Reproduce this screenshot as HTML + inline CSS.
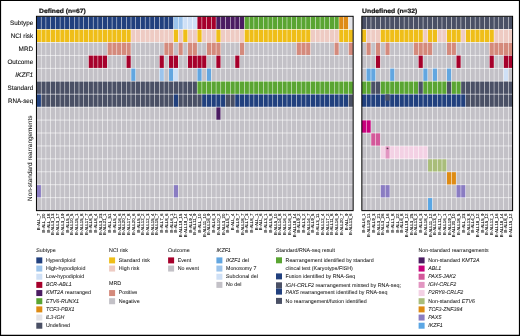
<!DOCTYPE html>
<html lang="en">
<head>
<meta charset="utf-8">
<title>Defined and undefined B-ALL subtypes: standard and RNA-seq results</title>
<style>
html,body{margin:0;padding:0;background:#fff;}
body{width:520px;height:336px;overflow:hidden;}
svg{display:block;font-family:"Liberation Sans",Arial,Helvetica,sans-serif;text-rendering:geometricPrecision;}

.soft{filter:blur(0.35px);}
text{stroke:#1a1a1a;stroke-width:inherit;paint-order:stroke;}
svg{stroke-width:0.05px;}
</style>
</head>
<body>
<svg width="520" height="336" viewBox="0 0 520 336">
<rect width="520" height="336" fill="#fff"/>
<g>
<g class="soft">
<rect x="36.7" y="16.7" width="4.23" height="12.36" fill="#21407e"/>
<rect x="41.43" y="16.7" width="4.23" height="12.36" fill="#21407e"/>
<rect x="46.15" y="16.7" width="4.23" height="12.36" fill="#21407e"/>
<rect x="50.88" y="16.7" width="4.23" height="12.36" fill="#21407e"/>
<rect x="55.61" y="16.7" width="4.23" height="12.36" fill="#21407e"/>
<rect x="60.33" y="16.7" width="4.23" height="12.36" fill="#21407e"/>
<rect x="65.06" y="16.7" width="4.23" height="12.36" fill="#21407e"/>
<rect x="69.79" y="16.7" width="4.23" height="12.36" fill="#21407e"/>
<rect x="74.51" y="16.7" width="4.23" height="12.36" fill="#21407e"/>
<rect x="79.24" y="16.7" width="4.23" height="12.36" fill="#21407e"/>
<rect x="83.97" y="16.7" width="4.23" height="12.36" fill="#21407e"/>
<rect x="88.7" y="16.7" width="4.23" height="12.36" fill="#21407e"/>
<rect x="93.42" y="16.7" width="4.23" height="12.36" fill="#21407e"/>
<rect x="98.15" y="16.7" width="4.23" height="12.36" fill="#21407e"/>
<rect x="102.88" y="16.7" width="4.23" height="12.36" fill="#21407e"/>
<rect x="107.6" y="16.7" width="4.23" height="12.36" fill="#21407e"/>
<rect x="112.33" y="16.7" width="4.23" height="12.36" fill="#21407e"/>
<rect x="117.06" y="16.7" width="4.23" height="12.36" fill="#21407e"/>
<rect x="121.78" y="16.7" width="4.23" height="12.36" fill="#21407e"/>
<rect x="126.51" y="16.7" width="4.23" height="12.36" fill="#21407e"/>
<rect x="131.24" y="16.7" width="4.23" height="12.36" fill="#21407e"/>
<rect x="135.96" y="16.7" width="4.23" height="12.36" fill="#21407e"/>
<rect x="140.69" y="16.7" width="4.23" height="12.36" fill="#21407e"/>
<rect x="145.42" y="16.7" width="4.23" height="12.36" fill="#21407e"/>
<rect x="150.14" y="16.7" width="4.23" height="12.36" fill="#21407e"/>
<rect x="154.87" y="16.7" width="4.23" height="12.36" fill="#21407e"/>
<rect x="159.6" y="16.7" width="4.23" height="12.36" fill="#21407e"/>
<rect x="164.33" y="16.7" width="4.23" height="12.36" fill="#21407e"/>
<rect x="169.05" y="16.7" width="4.23" height="12.36" fill="#21407e"/>
<rect x="173.78" y="16.7" width="4.23" height="12.36" fill="#9cc4ec"/>
<rect x="178.51" y="16.7" width="4.23" height="12.36" fill="#9cc4ec"/>
<rect x="183.23" y="16.7" width="4.23" height="12.36" fill="#cfe0f6"/>
<rect x="187.96" y="16.7" width="4.23" height="12.36" fill="#cfe0f6"/>
<rect x="192.69" y="16.7" width="4.23" height="12.36" fill="#cfe0f6"/>
<rect x="197.41" y="16.7" width="4.23" height="12.36" fill="#a6002b"/>
<rect x="202.14" y="16.7" width="4.23" height="12.36" fill="#a6002b"/>
<rect x="206.87" y="16.7" width="4.23" height="12.36" fill="#a6002b"/>
<rect x="211.59" y="16.7" width="4.23" height="12.36" fill="#a6002b"/>
<rect x="216.32" y="16.7" width="4.23" height="12.36" fill="#4b1c62"/>
<rect x="221.05" y="16.7" width="4.23" height="12.36" fill="#4b1c62"/>
<rect x="225.77" y="16.7" width="4.23" height="12.36" fill="#4b1c62"/>
<rect x="230.5" y="16.7" width="4.23" height="12.36" fill="#4b1c62"/>
<rect x="235.23" y="16.7" width="4.23" height="12.36" fill="#4b1c62"/>
<rect x="239.96" y="16.7" width="4.23" height="12.36" fill="#4b1c62"/>
<rect x="244.68" y="16.7" width="4.23" height="12.36" fill="#5aa532"/>
<rect x="249.41" y="16.7" width="4.23" height="12.36" fill="#5aa532"/>
<rect x="254.14" y="16.7" width="4.23" height="12.36" fill="#5aa532"/>
<rect x="258.86" y="16.7" width="4.23" height="12.36" fill="#5aa532"/>
<rect x="263.59" y="16.7" width="4.23" height="12.36" fill="#5aa532"/>
<rect x="268.32" y="16.7" width="4.23" height="12.36" fill="#5aa532"/>
<rect x="273.04" y="16.7" width="4.23" height="12.36" fill="#5aa532"/>
<rect x="277.77" y="16.7" width="4.23" height="12.36" fill="#5aa532"/>
<rect x="282.5" y="16.7" width="4.23" height="12.36" fill="#5aa532"/>
<rect x="287.22" y="16.7" width="4.23" height="12.36" fill="#5aa532"/>
<rect x="291.95" y="16.7" width="4.23" height="12.36" fill="#5aa532"/>
<rect x="296.68" y="16.7" width="4.23" height="12.36" fill="#5aa532"/>
<rect x="301.4" y="16.7" width="4.23" height="12.36" fill="#5aa532"/>
<rect x="306.13" y="16.7" width="4.23" height="12.36" fill="#5aa532"/>
<rect x="310.86" y="16.7" width="4.23" height="12.36" fill="#5aa532"/>
<rect x="315.59" y="16.7" width="4.23" height="12.36" fill="#5aa532"/>
<rect x="320.31" y="16.7" width="4.23" height="12.36" fill="#5aa532"/>
<rect x="325.04" y="16.7" width="4.23" height="12.36" fill="#5aa532"/>
<rect x="329.77" y="16.7" width="4.23" height="12.36" fill="#5aa532"/>
<rect x="334.49" y="16.7" width="4.23" height="12.36" fill="#5aa532"/>
<rect x="339.22" y="16.7" width="4.23" height="12.36" fill="#de8b14"/>
<rect x="343.95" y="16.7" width="4.23" height="12.36" fill="#de8b14"/>
<rect x="348.67" y="16.7" width="4.23" height="12.36" fill="#e3e3e7"/>
<rect x="36.7" y="29.65" width="4.23" height="12.36" fill="#efbe18"/>
<rect x="41.43" y="29.65" width="4.23" height="12.36" fill="#efbe18"/>
<rect x="46.15" y="29.65" width="4.23" height="12.36" fill="#efbe18"/>
<rect x="50.88" y="29.65" width="4.23" height="12.36" fill="#efbe18"/>
<rect x="55.61" y="29.65" width="4.23" height="12.36" fill="#efbe18"/>
<rect x="60.33" y="29.65" width="4.23" height="12.36" fill="#efbe18"/>
<rect x="65.06" y="29.65" width="4.23" height="12.36" fill="#efbe18"/>
<rect x="69.79" y="29.65" width="4.23" height="12.36" fill="#efbe18"/>
<rect x="74.51" y="29.65" width="4.23" height="12.36" fill="#efbe18"/>
<rect x="79.24" y="29.65" width="4.23" height="12.36" fill="#efbe18"/>
<rect x="83.97" y="29.65" width="4.23" height="12.36" fill="#efbe18"/>
<rect x="88.7" y="29.65" width="4.23" height="12.36" fill="#efbe18"/>
<rect x="93.42" y="29.65" width="4.23" height="12.36" fill="#efbe18"/>
<rect x="98.15" y="29.65" width="4.23" height="12.36" fill="#efbe18"/>
<rect x="102.88" y="29.65" width="4.23" height="12.36" fill="#efbe18"/>
<rect x="107.6" y="29.65" width="4.23" height="12.36" fill="#efbe18"/>
<rect x="112.33" y="29.65" width="4.23" height="12.36" fill="#efbe18"/>
<rect x="117.06" y="29.65" width="4.23" height="12.36" fill="#efbe18"/>
<rect x="121.78" y="29.65" width="4.23" height="12.36" fill="#efbe18"/>
<rect x="126.51" y="29.65" width="4.23" height="12.36" fill="#efbe18"/>
<rect x="131.24" y="29.65" width="4.23" height="12.36" fill="#eecbc3"/>
<rect x="135.96" y="29.65" width="4.23" height="12.36" fill="#eecbc3"/>
<rect x="140.69" y="29.65" width="4.23" height="12.36" fill="#eecbc3"/>
<rect x="145.42" y="29.65" width="4.23" height="12.36" fill="#eecbc3"/>
<rect x="150.14" y="29.65" width="4.23" height="12.36" fill="#eecbc3"/>
<rect x="154.87" y="29.65" width="4.23" height="12.36" fill="#eecbc3"/>
<rect x="159.6" y="29.65" width="4.23" height="12.36" fill="#eecbc3"/>
<rect x="164.33" y="29.65" width="4.23" height="12.36" fill="#eecbc3"/>
<rect x="169.05" y="29.65" width="4.23" height="12.36" fill="#eecbc3"/>
<rect x="173.78" y="29.65" width="4.23" height="12.36" fill="#efbe18"/>
<rect x="178.51" y="29.65" width="4.23" height="12.36" fill="#eecbc3"/>
<rect x="183.23" y="29.65" width="4.23" height="12.36" fill="#efbe18"/>
<rect x="187.96" y="29.65" width="4.23" height="12.36" fill="#eecbc3"/>
<rect x="192.69" y="29.65" width="4.23" height="12.36" fill="#eecbc3"/>
<rect x="197.41" y="29.65" width="4.23" height="12.36" fill="#efbe18"/>
<rect x="202.14" y="29.65" width="4.23" height="12.36" fill="#eecbc3"/>
<rect x="206.87" y="29.65" width="4.23" height="12.36" fill="#eecbc3"/>
<rect x="211.59" y="29.65" width="4.23" height="12.36" fill="#eecbc3"/>
<rect x="216.32" y="29.65" width="4.23" height="12.36" fill="#efbe18"/>
<rect x="221.05" y="29.65" width="4.23" height="12.36" fill="#eecbc3"/>
<rect x="225.77" y="29.65" width="4.23" height="12.36" fill="#eecbc3"/>
<rect x="230.5" y="29.65" width="4.23" height="12.36" fill="#eecbc3"/>
<rect x="235.23" y="29.65" width="4.23" height="12.36" fill="#eecbc3"/>
<rect x="239.96" y="29.65" width="4.23" height="12.36" fill="#eecbc3"/>
<rect x="244.68" y="29.65" width="4.23" height="12.36" fill="#efbe18"/>
<rect x="249.41" y="29.65" width="4.23" height="12.36" fill="#efbe18"/>
<rect x="254.14" y="29.65" width="4.23" height="12.36" fill="#efbe18"/>
<rect x="258.86" y="29.65" width="4.23" height="12.36" fill="#efbe18"/>
<rect x="263.59" y="29.65" width="4.23" height="12.36" fill="#efbe18"/>
<rect x="268.32" y="29.65" width="4.23" height="12.36" fill="#efbe18"/>
<rect x="273.04" y="29.65" width="4.23" height="12.36" fill="#efbe18"/>
<rect x="277.77" y="29.65" width="4.23" height="12.36" fill="#efbe18"/>
<rect x="282.5" y="29.65" width="4.23" height="12.36" fill="#efbe18"/>
<rect x="287.22" y="29.65" width="4.23" height="12.36" fill="#efbe18"/>
<rect x="291.95" y="29.65" width="4.23" height="12.36" fill="#efbe18"/>
<rect x="296.68" y="29.65" width="4.23" height="12.36" fill="#efbe18"/>
<rect x="301.4" y="29.65" width="4.23" height="12.36" fill="#efbe18"/>
<rect x="306.13" y="29.65" width="4.23" height="12.36" fill="#efbe18"/>
<rect x="310.86" y="29.65" width="4.23" height="12.36" fill="#eecbc3"/>
<rect x="315.59" y="29.65" width="4.23" height="12.36" fill="#eecbc3"/>
<rect x="320.31" y="29.65" width="4.23" height="12.36" fill="#eecbc3"/>
<rect x="325.04" y="29.65" width="4.23" height="12.36" fill="#eecbc3"/>
<rect x="329.77" y="29.65" width="4.23" height="12.36" fill="#eecbc3"/>
<rect x="334.49" y="29.65" width="4.23" height="12.36" fill="#eecbc3"/>
<rect x="339.22" y="29.65" width="4.23" height="12.36" fill="#efbe18"/>
<rect x="343.95" y="29.65" width="4.23" height="12.36" fill="#efbe18"/>
<rect x="348.67" y="29.65" width="4.23" height="12.36" fill="#efbe18"/>
<rect x="36.7" y="42.61" width="4.23" height="12.36" fill="#c3c1c7"/>
<rect x="41.43" y="42.61" width="4.23" height="12.36" fill="#c3c1c7"/>
<rect x="46.15" y="42.61" width="4.23" height="12.36" fill="#c3c1c7"/>
<rect x="50.88" y="42.61" width="4.23" height="12.36" fill="#c3c1c7"/>
<rect x="55.61" y="42.61" width="4.23" height="12.36" fill="#c3c1c7"/>
<rect x="60.33" y="42.61" width="4.23" height="12.36" fill="#c3c1c7"/>
<rect x="65.06" y="42.61" width="4.23" height="12.36" fill="#c3c1c7"/>
<rect x="69.79" y="42.61" width="4.23" height="12.36" fill="#c3c1c7"/>
<rect x="74.51" y="42.61" width="4.23" height="12.36" fill="#c3c1c7"/>
<rect x="79.24" y="42.61" width="4.23" height="12.36" fill="#c3c1c7"/>
<rect x="83.97" y="42.61" width="4.23" height="12.36" fill="#c3c1c7"/>
<rect x="88.7" y="42.61" width="4.23" height="12.36" fill="#c3c1c7"/>
<rect x="93.42" y="42.61" width="4.23" height="12.36" fill="#c3c1c7"/>
<rect x="98.15" y="42.61" width="4.23" height="12.36" fill="#c3c1c7"/>
<rect x="102.88" y="42.61" width="4.23" height="12.36" fill="#c3c1c7"/>
<rect x="107.6" y="42.61" width="4.23" height="12.36" fill="#d48a7c"/>
<rect x="112.33" y="42.61" width="4.23" height="12.36" fill="#d48a7c"/>
<rect x="117.06" y="42.61" width="4.23" height="12.36" fill="#d48a7c"/>
<rect x="121.78" y="42.61" width="4.23" height="12.36" fill="#d48a7c"/>
<rect x="126.51" y="42.61" width="4.23" height="12.36" fill="#d48a7c"/>
<rect x="131.24" y="42.61" width="4.23" height="12.36" fill="#c3c1c7"/>
<rect x="135.96" y="42.61" width="4.23" height="12.36" fill="#c3c1c7"/>
<rect x="140.69" y="42.61" width="4.23" height="12.36" fill="#c3c1c7"/>
<rect x="145.42" y="42.61" width="4.23" height="12.36" fill="#c3c1c7"/>
<rect x="150.14" y="42.61" width="4.23" height="12.36" fill="#c3c1c7"/>
<rect x="154.87" y="42.61" width="4.23" height="12.36" fill="#c3c1c7"/>
<rect x="159.6" y="42.61" width="4.23" height="12.36" fill="#c3c1c7"/>
<rect x="164.33" y="42.61" width="4.23" height="12.36" fill="#d48a7c"/>
<rect x="169.05" y="42.61" width="4.23" height="12.36" fill="#d48a7c"/>
<rect x="173.78" y="42.61" width="4.23" height="12.36" fill="#c3c1c7"/>
<rect x="178.51" y="42.61" width="4.23" height="12.36" fill="#d48a7c"/>
<rect x="183.23" y="42.61" width="4.23" height="12.36" fill="#c3c1c7"/>
<rect x="187.96" y="42.61" width="4.23" height="12.36" fill="#d48a7c"/>
<rect x="192.69" y="42.61" width="4.23" height="12.36" fill="#d48a7c"/>
<rect x="197.41" y="42.61" width="4.23" height="12.36" fill="#c3c1c7"/>
<rect x="202.14" y="42.61" width="4.23" height="12.36" fill="#c3c1c7"/>
<rect x="206.87" y="42.61" width="4.23" height="12.36" fill="#d48a7c"/>
<rect x="211.59" y="42.61" width="4.23" height="12.36" fill="#d48a7c"/>
<rect x="216.32" y="42.61" width="4.23" height="12.36" fill="#d48a7c"/>
<rect x="221.05" y="42.61" width="4.23" height="12.36" fill="#c3c1c7"/>
<rect x="225.77" y="42.61" width="4.23" height="12.36" fill="#c3c1c7"/>
<rect x="230.5" y="42.61" width="4.23" height="12.36" fill="#c3c1c7"/>
<rect x="235.23" y="42.61" width="4.23" height="12.36" fill="#c3c1c7"/>
<rect x="239.96" y="42.61" width="4.23" height="12.36" fill="#d48a7c"/>
<rect x="244.68" y="42.61" width="4.23" height="12.36" fill="#c3c1c7"/>
<rect x="249.41" y="42.61" width="4.23" height="12.36" fill="#c3c1c7"/>
<rect x="254.14" y="42.61" width="4.23" height="12.36" fill="#c3c1c7"/>
<rect x="258.86" y="42.61" width="4.23" height="12.36" fill="#c3c1c7"/>
<rect x="263.59" y="42.61" width="4.23" height="12.36" fill="#c3c1c7"/>
<rect x="268.32" y="42.61" width="4.23" height="12.36" fill="#c3c1c7"/>
<rect x="273.04" y="42.61" width="4.23" height="12.36" fill="#c3c1c7"/>
<rect x="277.77" y="42.61" width="4.23" height="12.36" fill="#c3c1c7"/>
<rect x="282.5" y="42.61" width="4.23" height="12.36" fill="#c3c1c7"/>
<rect x="287.22" y="42.61" width="4.23" height="12.36" fill="#c3c1c7"/>
<rect x="291.95" y="42.61" width="4.23" height="12.36" fill="#c3c1c7"/>
<rect x="296.68" y="42.61" width="4.23" height="12.36" fill="#d48a7c"/>
<rect x="301.4" y="42.61" width="4.23" height="12.36" fill="#d48a7c"/>
<rect x="306.13" y="42.61" width="4.23" height="12.36" fill="#d48a7c"/>
<rect x="310.86" y="42.61" width="4.23" height="12.36" fill="#c3c1c7"/>
<rect x="315.59" y="42.61" width="4.23" height="12.36" fill="#c3c1c7"/>
<rect x="320.31" y="42.61" width="4.23" height="12.36" fill="#c3c1c7"/>
<rect x="325.04" y="42.61" width="4.23" height="12.36" fill="#c3c1c7"/>
<rect x="329.77" y="42.61" width="4.23" height="12.36" fill="#c3c1c7"/>
<rect x="334.49" y="42.61" width="4.23" height="12.36" fill="#d48a7c"/>
<rect x="339.22" y="42.61" width="4.23" height="12.36" fill="#c3c1c7"/>
<rect x="343.95" y="42.61" width="4.23" height="12.36" fill="#c3c1c7"/>
<rect x="348.67" y="42.61" width="4.23" height="12.36" fill="#d48a7c"/>
<rect x="36.7" y="55.56" width="4.23" height="12.36" fill="#c3c1c7"/>
<rect x="41.43" y="55.56" width="4.23" height="12.36" fill="#c3c1c7"/>
<rect x="46.15" y="55.56" width="4.23" height="12.36" fill="#c3c1c7"/>
<rect x="50.88" y="55.56" width="4.23" height="12.36" fill="#c3c1c7"/>
<rect x="55.61" y="55.56" width="4.23" height="12.36" fill="#c3c1c7"/>
<rect x="60.33" y="55.56" width="4.23" height="12.36" fill="#c3c1c7"/>
<rect x="65.06" y="55.56" width="4.23" height="12.36" fill="#c3c1c7"/>
<rect x="69.79" y="55.56" width="4.23" height="12.36" fill="#c3c1c7"/>
<rect x="74.51" y="55.56" width="4.23" height="12.36" fill="#c3c1c7"/>
<rect x="79.24" y="55.56" width="4.23" height="12.36" fill="#c3c1c7"/>
<rect x="83.97" y="55.56" width="4.23" height="12.36" fill="#c3c1c7"/>
<rect x="88.7" y="55.56" width="4.23" height="12.36" fill="#a6002b"/>
<rect x="93.42" y="55.56" width="4.23" height="12.36" fill="#a6002b"/>
<rect x="98.15" y="55.56" width="4.23" height="12.36" fill="#a6002b"/>
<rect x="102.88" y="55.56" width="4.23" height="12.36" fill="#a6002b"/>
<rect x="107.6" y="55.56" width="4.23" height="12.36" fill="#c3c1c7"/>
<rect x="112.33" y="55.56" width="4.23" height="12.36" fill="#c3c1c7"/>
<rect x="117.06" y="55.56" width="4.23" height="12.36" fill="#c3c1c7"/>
<rect x="121.78" y="55.56" width="4.23" height="12.36" fill="#c3c1c7"/>
<rect x="126.51" y="55.56" width="4.23" height="12.36" fill="#a6002b"/>
<rect x="131.24" y="55.56" width="4.23" height="12.36" fill="#c3c1c7"/>
<rect x="135.96" y="55.56" width="4.23" height="12.36" fill="#c3c1c7"/>
<rect x="140.69" y="55.56" width="4.23" height="12.36" fill="#c3c1c7"/>
<rect x="145.42" y="55.56" width="4.23" height="12.36" fill="#c3c1c7"/>
<rect x="150.14" y="55.56" width="4.23" height="12.36" fill="#c3c1c7"/>
<rect x="154.87" y="55.56" width="4.23" height="12.36" fill="#c3c1c7"/>
<rect x="159.6" y="55.56" width="4.23" height="12.36" fill="#a6002b"/>
<rect x="164.33" y="55.56" width="4.23" height="12.36" fill="#c3c1c7"/>
<rect x="169.05" y="55.56" width="4.23" height="12.36" fill="#a6002b"/>
<rect x="173.78" y="55.56" width="4.23" height="12.36" fill="#a6002b"/>
<rect x="178.51" y="55.56" width="4.23" height="12.36" fill="#c3c1c7"/>
<rect x="183.23" y="55.56" width="4.23" height="12.36" fill="#c3c1c7"/>
<rect x="187.96" y="55.56" width="4.23" height="12.36" fill="#a6002b"/>
<rect x="192.69" y="55.56" width="4.23" height="12.36" fill="#a6002b"/>
<rect x="197.41" y="55.56" width="4.23" height="12.36" fill="#a6002b"/>
<rect x="202.14" y="55.56" width="4.23" height="12.36" fill="#a6002b"/>
<rect x="206.87" y="55.56" width="4.23" height="12.36" fill="#c3c1c7"/>
<rect x="211.59" y="55.56" width="4.23" height="12.36" fill="#c3c1c7"/>
<rect x="216.32" y="55.56" width="4.23" height="12.36" fill="#a6002b"/>
<rect x="221.05" y="55.56" width="4.23" height="12.36" fill="#c3c1c7"/>
<rect x="225.77" y="55.56" width="4.23" height="12.36" fill="#c3c1c7"/>
<rect x="230.5" y="55.56" width="4.23" height="12.36" fill="#c3c1c7"/>
<rect x="235.23" y="55.56" width="4.23" height="12.36" fill="#a6002b"/>
<rect x="239.96" y="55.56" width="4.23" height="12.36" fill="#c3c1c7"/>
<rect x="244.68" y="55.56" width="4.23" height="12.36" fill="#c3c1c7"/>
<rect x="249.41" y="55.56" width="4.23" height="12.36" fill="#c3c1c7"/>
<rect x="254.14" y="55.56" width="4.23" height="12.36" fill="#c3c1c7"/>
<rect x="258.86" y="55.56" width="4.23" height="12.36" fill="#c3c1c7"/>
<rect x="263.59" y="55.56" width="4.23" height="12.36" fill="#c3c1c7"/>
<rect x="268.32" y="55.56" width="4.23" height="12.36" fill="#c3c1c7"/>
<rect x="273.04" y="55.56" width="4.23" height="12.36" fill="#c3c1c7"/>
<rect x="277.77" y="55.56" width="4.23" height="12.36" fill="#c3c1c7"/>
<rect x="282.5" y="55.56" width="4.23" height="12.36" fill="#c3c1c7"/>
<rect x="287.22" y="55.56" width="4.23" height="12.36" fill="#c3c1c7"/>
<rect x="291.95" y="55.56" width="4.23" height="12.36" fill="#c3c1c7"/>
<rect x="296.68" y="55.56" width="4.23" height="12.36" fill="#c3c1c7"/>
<rect x="301.4" y="55.56" width="4.23" height="12.36" fill="#c3c1c7"/>
<rect x="306.13" y="55.56" width="4.23" height="12.36" fill="#c3c1c7"/>
<rect x="310.86" y="55.56" width="4.23" height="12.36" fill="#c3c1c7"/>
<rect x="315.59" y="55.56" width="4.23" height="12.36" fill="#c3c1c7"/>
<rect x="320.31" y="55.56" width="4.23" height="12.36" fill="#c3c1c7"/>
<rect x="325.04" y="55.56" width="4.23" height="12.36" fill="#c3c1c7"/>
<rect x="329.77" y="55.56" width="4.23" height="12.36" fill="#c3c1c7"/>
<rect x="334.49" y="55.56" width="4.23" height="12.36" fill="#c3c1c7"/>
<rect x="339.22" y="55.56" width="4.23" height="12.36" fill="#c3c1c7"/>
<rect x="343.95" y="55.56" width="4.23" height="12.36" fill="#c3c1c7"/>
<rect x="348.67" y="55.56" width="4.23" height="12.36" fill="#c3c1c7"/>
<rect x="36.7" y="68.52" width="4.23" height="12.36" fill="#c3c1c7"/>
<rect x="41.43" y="68.52" width="4.23" height="12.36" fill="#c3c1c7"/>
<rect x="46.15" y="68.52" width="4.23" height="12.36" fill="#c3c1c7"/>
<rect x="50.88" y="68.52" width="4.23" height="12.36" fill="#c3c1c7"/>
<rect x="55.61" y="68.52" width="4.23" height="12.36" fill="#c3c1c7"/>
<rect x="60.33" y="68.52" width="4.23" height="12.36" fill="#c3c1c7"/>
<rect x="65.06" y="68.52" width="4.23" height="12.36" fill="#c3c1c7"/>
<rect x="69.79" y="68.52" width="4.23" height="12.36" fill="#c3c1c7"/>
<rect x="74.51" y="68.52" width="4.23" height="12.36" fill="#c3c1c7"/>
<rect x="79.24" y="68.52" width="4.23" height="12.36" fill="#c3c1c7"/>
<rect x="83.97" y="68.52" width="4.23" height="12.36" fill="#c3c1c7"/>
<rect x="88.7" y="68.52" width="4.23" height="12.36" fill="#c3c1c7"/>
<rect x="93.42" y="68.52" width="4.23" height="12.36" fill="#c3c1c7"/>
<rect x="98.15" y="68.52" width="4.23" height="12.36" fill="#c3c1c7"/>
<rect x="102.88" y="68.52" width="4.23" height="12.36" fill="#c3c1c7"/>
<rect x="107.6" y="68.52" width="4.23" height="12.36" fill="#c3c1c7"/>
<rect x="112.33" y="68.52" width="4.23" height="12.36" fill="#c3c1c7"/>
<rect x="117.06" y="68.52" width="4.23" height="12.36" fill="#c3c1c7"/>
<rect x="121.78" y="68.52" width="4.23" height="12.36" fill="#c3c1c7"/>
<rect x="126.51" y="68.52" width="4.23" height="12.36" fill="#c3c1c7"/>
<rect x="131.24" y="68.52" width="4.23" height="12.36" fill="#62a6e0"/>
<rect x="135.96" y="68.52" width="4.23" height="12.36" fill="#c3c1c7"/>
<rect x="140.69" y="68.52" width="4.23" height="12.36" fill="#c3c1c7"/>
<rect x="145.42" y="68.52" width="4.23" height="12.36" fill="#c3c1c7"/>
<rect x="150.14" y="68.52" width="4.23" height="12.36" fill="#c3c1c7"/>
<rect x="154.87" y="68.52" width="4.23" height="12.36" fill="#c3c1c7"/>
<rect x="159.6" y="68.52" width="4.23" height="12.36" fill="#9cc4ec"/>
<rect x="164.33" y="68.52" width="4.23" height="12.36" fill="#c3c1c7"/>
<rect x="169.05" y="68.52" width="4.23" height="12.36" fill="#62a6e0"/>
<rect x="173.78" y="68.52" width="4.23" height="12.36" fill="#cfe0f6"/>
<rect x="178.51" y="68.52" width="4.23" height="12.36" fill="#c3c1c7"/>
<rect x="183.23" y="68.52" width="4.23" height="12.36" fill="#c3c1c7"/>
<rect x="187.96" y="68.52" width="4.23" height="12.36" fill="#c3c1c7"/>
<rect x="192.69" y="68.52" width="4.23" height="12.36" fill="#c3c1c7"/>
<rect x="197.41" y="68.52" width="4.23" height="12.36" fill="#62a6e0"/>
<rect x="202.14" y="68.52" width="4.23" height="12.36" fill="#c3c1c7"/>
<rect x="206.87" y="68.52" width="4.23" height="12.36" fill="#62a6e0"/>
<rect x="211.59" y="68.52" width="4.23" height="12.36" fill="#c3c1c7"/>
<rect x="216.32" y="68.52" width="4.23" height="12.36" fill="#c3c1c7"/>
<rect x="221.05" y="68.52" width="4.23" height="12.36" fill="#c3c1c7"/>
<rect x="225.77" y="68.52" width="4.23" height="12.36" fill="#c3c1c7"/>
<rect x="230.5" y="68.52" width="4.23" height="12.36" fill="#c3c1c7"/>
<rect x="235.23" y="68.52" width="4.23" height="12.36" fill="#c3c1c7"/>
<rect x="239.96" y="68.52" width="4.23" height="12.36" fill="#c3c1c7"/>
<rect x="244.68" y="68.52" width="4.23" height="12.36" fill="#c3c1c7"/>
<rect x="249.41" y="68.52" width="4.23" height="12.36" fill="#c3c1c7"/>
<rect x="254.14" y="68.52" width="4.23" height="12.36" fill="#c3c1c7"/>
<rect x="258.86" y="68.52" width="4.23" height="12.36" fill="#c3c1c7"/>
<rect x="263.59" y="68.52" width="4.23" height="12.36" fill="#c3c1c7"/>
<rect x="268.32" y="68.52" width="4.23" height="12.36" fill="#c3c1c7"/>
<rect x="273.04" y="68.52" width="4.23" height="12.36" fill="#c3c1c7"/>
<rect x="277.77" y="68.52" width="4.23" height="12.36" fill="#c3c1c7"/>
<rect x="282.5" y="68.52" width="4.23" height="12.36" fill="#c3c1c7"/>
<rect x="287.22" y="68.52" width="4.23" height="12.36" fill="#c3c1c7"/>
<rect x="291.95" y="68.52" width="4.23" height="12.36" fill="#c3c1c7"/>
<rect x="296.68" y="68.52" width="4.23" height="12.36" fill="#c3c1c7"/>
<rect x="301.4" y="68.52" width="4.23" height="12.36" fill="#c3c1c7"/>
<rect x="306.13" y="68.52" width="4.23" height="12.36" fill="#c3c1c7"/>
<rect x="310.86" y="68.52" width="4.23" height="12.36" fill="#c3c1c7"/>
<rect x="315.59" y="68.52" width="4.23" height="12.36" fill="#c3c1c7"/>
<rect x="320.31" y="68.52" width="4.23" height="12.36" fill="#c3c1c7"/>
<rect x="325.04" y="68.52" width="4.23" height="12.36" fill="#c3c1c7"/>
<rect x="329.77" y="68.52" width="4.23" height="12.36" fill="#c3c1c7"/>
<rect x="334.49" y="68.52" width="4.23" height="12.36" fill="#c3c1c7"/>
<rect x="339.22" y="68.52" width="4.23" height="12.36" fill="#c3c1c7"/>
<rect x="343.95" y="68.52" width="4.23" height="12.36" fill="#c3c1c7"/>
<rect x="348.67" y="68.52" width="4.23" height="12.36" fill="#c3c1c7"/>
<rect x="36.7" y="81.48" width="4.23" height="12.36" fill="#4a5065"/>
<rect x="41.43" y="81.48" width="4.23" height="12.36" fill="#4a5065"/>
<rect x="46.15" y="81.48" width="4.23" height="12.36" fill="#4a5065"/>
<rect x="50.88" y="81.48" width="4.23" height="12.36" fill="#4a5065"/>
<rect x="55.61" y="81.48" width="4.23" height="12.36" fill="#4a5065"/>
<rect x="60.33" y="81.48" width="4.23" height="12.36" fill="#4a5065"/>
<rect x="65.06" y="81.48" width="4.23" height="12.36" fill="#4a5065"/>
<rect x="69.79" y="81.48" width="4.23" height="12.36" fill="#4a5065"/>
<rect x="74.51" y="81.48" width="4.23" height="12.36" fill="#4a5065"/>
<rect x="79.24" y="81.48" width="4.23" height="12.36" fill="#4a5065"/>
<rect x="83.97" y="81.48" width="4.23" height="12.36" fill="#4a5065"/>
<rect x="88.7" y="81.48" width="4.23" height="12.36" fill="#4a5065"/>
<rect x="93.42" y="81.48" width="4.23" height="12.36" fill="#4a5065"/>
<rect x="98.15" y="81.48" width="4.23" height="12.36" fill="#4a5065"/>
<rect x="102.88" y="81.48" width="4.23" height="12.36" fill="#4a5065"/>
<rect x="107.6" y="81.48" width="4.23" height="12.36" fill="#4a5065"/>
<rect x="112.33" y="81.48" width="4.23" height="12.36" fill="#4a5065"/>
<rect x="117.06" y="81.48" width="4.23" height="12.36" fill="#4a5065"/>
<rect x="121.78" y="81.48" width="4.23" height="12.36" fill="#4a5065"/>
<rect x="126.51" y="81.48" width="4.23" height="12.36" fill="#4a5065"/>
<rect x="131.24" y="81.48" width="4.23" height="12.36" fill="#4a5065"/>
<rect x="135.96" y="81.48" width="4.23" height="12.36" fill="#4a5065"/>
<rect x="140.69" y="81.48" width="4.23" height="12.36" fill="#4a5065"/>
<rect x="145.42" y="81.48" width="4.23" height="12.36" fill="#4a5065"/>
<rect x="150.14" y="81.48" width="4.23" height="12.36" fill="#4a5065"/>
<rect x="154.87" y="81.48" width="4.23" height="12.36" fill="#4a5065"/>
<rect x="159.6" y="81.48" width="4.23" height="12.36" fill="#4a5065"/>
<rect x="164.33" y="81.48" width="4.23" height="12.36" fill="#4a5065"/>
<rect x="169.05" y="81.48" width="4.23" height="12.36" fill="#4a5065"/>
<rect x="173.78" y="81.48" width="4.23" height="12.36" fill="#4a5065"/>
<rect x="178.51" y="81.48" width="4.23" height="12.36" fill="#4a5065"/>
<rect x="183.23" y="81.48" width="4.23" height="12.36" fill="#4a5065"/>
<rect x="187.96" y="81.48" width="4.23" height="12.36" fill="#4a5065"/>
<rect x="192.69" y="81.48" width="4.23" height="12.36" fill="#4a5065"/>
<rect x="197.41" y="81.48" width="4.23" height="12.36" fill="#5aa532"/>
<rect x="202.14" y="81.48" width="4.23" height="12.36" fill="#5aa532"/>
<rect x="206.87" y="81.48" width="4.23" height="12.36" fill="#5aa532"/>
<rect x="211.59" y="81.48" width="4.23" height="12.36" fill="#5aa532"/>
<rect x="216.32" y="81.48" width="4.23" height="12.36" fill="#5aa532"/>
<rect x="221.05" y="81.48" width="4.23" height="12.36" fill="#5aa532"/>
<rect x="225.77" y="81.48" width="4.23" height="12.36" fill="#5aa532"/>
<rect x="230.5" y="81.48" width="4.23" height="12.36" fill="#5aa532"/>
<rect x="235.23" y="81.48" width="4.23" height="12.36" fill="#5aa532"/>
<rect x="239.96" y="81.48" width="4.23" height="12.36" fill="#5aa532"/>
<rect x="244.68" y="81.48" width="4.23" height="12.36" fill="#5aa532"/>
<rect x="249.41" y="81.48" width="4.23" height="12.36" fill="#5aa532"/>
<rect x="254.14" y="81.48" width="4.23" height="12.36" fill="#5aa532"/>
<rect x="258.86" y="81.48" width="4.23" height="12.36" fill="#5aa532"/>
<rect x="263.59" y="81.48" width="4.23" height="12.36" fill="#5aa532"/>
<rect x="268.32" y="81.48" width="4.23" height="12.36" fill="#5aa532"/>
<rect x="273.04" y="81.48" width="4.23" height="12.36" fill="#5aa532"/>
<rect x="277.77" y="81.48" width="4.23" height="12.36" fill="#5aa532"/>
<rect x="282.5" y="81.48" width="4.23" height="12.36" fill="#5aa532"/>
<rect x="287.22" y="81.48" width="4.23" height="12.36" fill="#5aa532"/>
<rect x="291.95" y="81.48" width="4.23" height="12.36" fill="#5aa532"/>
<rect x="296.68" y="81.48" width="4.23" height="12.36" fill="#5aa532"/>
<rect x="301.4" y="81.48" width="4.23" height="12.36" fill="#5aa532"/>
<rect x="306.13" y="81.48" width="4.23" height="12.36" fill="#5aa532"/>
<rect x="310.86" y="81.48" width="4.23" height="12.36" fill="#5aa532"/>
<rect x="315.59" y="81.48" width="4.23" height="12.36" fill="#5aa532"/>
<rect x="320.31" y="81.48" width="4.23" height="12.36" fill="#5aa532"/>
<rect x="325.04" y="81.48" width="4.23" height="12.36" fill="#5aa532"/>
<rect x="329.77" y="81.48" width="4.23" height="12.36" fill="#5aa532"/>
<rect x="334.49" y="81.48" width="4.23" height="12.36" fill="#5aa532"/>
<rect x="339.22" y="81.48" width="4.23" height="12.36" fill="#5aa532"/>
<rect x="343.95" y="81.48" width="4.23" height="12.36" fill="#5aa532"/>
<rect x="348.67" y="81.48" width="4.23" height="12.36" fill="#5aa532"/>
<rect x="36.7" y="94.43" width="4.23" height="12.36" fill="#21407e"/>
<rect x="41.43" y="94.43" width="4.23" height="12.36" fill="#4a5065"/>
<rect x="46.15" y="94.43" width="4.23" height="12.36" fill="#4a5065"/>
<rect x="50.88" y="94.43" width="4.23" height="12.36" fill="#4a5065"/>
<rect x="55.61" y="94.43" width="4.23" height="12.36" fill="#4a5065"/>
<rect x="60.33" y="94.43" width="4.23" height="12.36" fill="#4a5065"/>
<rect x="65.06" y="94.43" width="4.23" height="12.36" fill="#4a5065"/>
<rect x="69.79" y="94.43" width="4.23" height="12.36" fill="#4a5065"/>
<rect x="74.51" y="94.43" width="4.23" height="12.36" fill="#4a5065"/>
<rect x="79.24" y="94.43" width="4.23" height="12.36" fill="#4a5065"/>
<rect x="83.97" y="94.43" width="4.23" height="12.36" fill="#4a5065"/>
<rect x="88.7" y="94.43" width="4.23" height="12.36" fill="#4a5065"/>
<rect x="93.42" y="94.43" width="4.23" height="12.36" fill="#4a5065"/>
<rect x="98.15" y="94.43" width="4.23" height="12.36" fill="#4a5065"/>
<rect x="102.88" y="94.43" width="4.23" height="12.36" fill="#4a5065"/>
<rect x="107.6" y="94.43" width="4.23" height="12.36" fill="#4a5065"/>
<rect x="112.33" y="94.43" width="4.23" height="12.36" fill="#4a5065"/>
<rect x="117.06" y="94.43" width="4.23" height="12.36" fill="#4a5065"/>
<rect x="121.78" y="94.43" width="4.23" height="12.36" fill="#4a5065"/>
<rect x="126.51" y="94.43" width="4.23" height="12.36" fill="#4a5065"/>
<rect x="131.24" y="94.43" width="4.23" height="12.36" fill="#4a5065"/>
<rect x="135.96" y="94.43" width="4.23" height="12.36" fill="#4a5065"/>
<rect x="140.69" y="94.43" width="4.23" height="12.36" fill="#4a5065"/>
<rect x="145.42" y="94.43" width="4.23" height="12.36" fill="#4a5065"/>
<rect x="150.14" y="94.43" width="4.23" height="12.36" fill="#4a5065"/>
<rect x="154.87" y="94.43" width="4.23" height="12.36" fill="#4a5065"/>
<rect x="159.6" y="94.43" width="4.23" height="12.36" fill="#4a5065"/>
<rect x="164.33" y="94.43" width="4.23" height="12.36" fill="#4a5065"/>
<rect x="169.05" y="94.43" width="4.23" height="12.36" fill="#4a5065"/>
<rect x="173.78" y="94.43" width="4.23" height="12.36" fill="#21407e"/>
<rect x="178.51" y="94.43" width="4.23" height="12.36" fill="#4a5065"/>
<rect x="183.23" y="94.43" width="4.23" height="12.36" fill="#4a5065"/>
<rect x="187.96" y="94.43" width="4.23" height="12.36" fill="#4a5065"/>
<rect x="192.69" y="94.43" width="4.23" height="12.36" fill="#4a5065"/>
<rect x="197.41" y="94.43" width="4.23" height="12.36" fill="#4a5065"/>
<rect x="202.14" y="94.43" width="4.23" height="12.36" fill="#21407e"/>
<rect x="206.87" y="94.43" width="4.23" height="12.36" fill="#21407e"/>
<rect x="211.59" y="94.43" width="4.23" height="12.36" fill="#21407e"/>
<rect x="216.32" y="94.43" width="4.23" height="12.36" fill="#21407e"/>
<rect x="221.05" y="94.43" width="4.23" height="12.36" fill="#21407e"/>
<rect x="225.77" y="94.43" width="4.23" height="12.36" fill="#4a5065"/>
<rect x="230.5" y="94.43" width="4.23" height="12.36" fill="#4a5065"/>
<rect x="235.23" y="94.43" width="4.23" height="12.36" fill="#21407e"/>
<rect x="239.96" y="94.43" width="4.23" height="12.36" fill="#21407e"/>
<rect x="244.68" y="94.43" width="4.23" height="12.36" fill="#21407e"/>
<rect x="249.41" y="94.43" width="4.23" height="12.36" fill="#21407e"/>
<rect x="254.14" y="94.43" width="4.23" height="12.36" fill="#21407e"/>
<rect x="258.86" y="94.43" width="4.23" height="12.36" fill="#21407e"/>
<rect x="263.59" y="94.43" width="4.23" height="12.36" fill="#21407e"/>
<rect x="268.32" y="94.43" width="4.23" height="12.36" fill="#21407e"/>
<rect x="273.04" y="94.43" width="4.23" height="12.36" fill="#21407e"/>
<rect x="277.77" y="94.43" width="4.23" height="12.36" fill="#21407e"/>
<rect x="282.5" y="94.43" width="4.23" height="12.36" fill="#21407e"/>
<rect x="287.22" y="94.43" width="4.23" height="12.36" fill="#21407e"/>
<rect x="291.95" y="94.43" width="4.23" height="12.36" fill="#21407e"/>
<rect x="296.68" y="94.43" width="4.23" height="12.36" fill="#21407e"/>
<rect x="301.4" y="94.43" width="4.23" height="12.36" fill="#21407e"/>
<rect x="306.13" y="94.43" width="4.23" height="12.36" fill="#21407e"/>
<rect x="310.86" y="94.43" width="4.23" height="12.36" fill="#21407e"/>
<rect x="315.59" y="94.43" width="4.23" height="12.36" fill="#21407e"/>
<rect x="320.31" y="94.43" width="4.23" height="12.36" fill="#21407e"/>
<rect x="325.04" y="94.43" width="4.23" height="12.36" fill="#21407e"/>
<rect x="329.77" y="94.43" width="4.23" height="12.36" fill="#21407e"/>
<rect x="334.49" y="94.43" width="4.23" height="12.36" fill="#21407e"/>
<rect x="339.22" y="94.43" width="4.23" height="12.36" fill="#21407e"/>
<rect x="343.95" y="94.43" width="4.23" height="12.36" fill="#21407e"/>
<rect x="348.67" y="94.43" width="4.23" height="12.36" fill="#4a5065"/>
<rect x="36.7" y="107.39" width="4.23" height="12.36" fill="#c3c1c7"/>
<rect x="41.43" y="107.39" width="4.23" height="12.36" fill="#c3c1c7"/>
<rect x="46.15" y="107.39" width="4.23" height="12.36" fill="#c3c1c7"/>
<rect x="50.88" y="107.39" width="4.23" height="12.36" fill="#c3c1c7"/>
<rect x="55.61" y="107.39" width="4.23" height="12.36" fill="#c3c1c7"/>
<rect x="60.33" y="107.39" width="4.23" height="12.36" fill="#c3c1c7"/>
<rect x="65.06" y="107.39" width="4.23" height="12.36" fill="#c3c1c7"/>
<rect x="69.79" y="107.39" width="4.23" height="12.36" fill="#c3c1c7"/>
<rect x="74.51" y="107.39" width="4.23" height="12.36" fill="#c3c1c7"/>
<rect x="79.24" y="107.39" width="4.23" height="12.36" fill="#c3c1c7"/>
<rect x="83.97" y="107.39" width="4.23" height="12.36" fill="#c3c1c7"/>
<rect x="88.7" y="107.39" width="4.23" height="12.36" fill="#c3c1c7"/>
<rect x="93.42" y="107.39" width="4.23" height="12.36" fill="#c3c1c7"/>
<rect x="98.15" y="107.39" width="4.23" height="12.36" fill="#c3c1c7"/>
<rect x="102.88" y="107.39" width="4.23" height="12.36" fill="#c3c1c7"/>
<rect x="107.6" y="107.39" width="4.23" height="12.36" fill="#c3c1c7"/>
<rect x="112.33" y="107.39" width="4.23" height="12.36" fill="#c3c1c7"/>
<rect x="117.06" y="107.39" width="4.23" height="12.36" fill="#c3c1c7"/>
<rect x="121.78" y="107.39" width="4.23" height="12.36" fill="#c3c1c7"/>
<rect x="126.51" y="107.39" width="4.23" height="12.36" fill="#c3c1c7"/>
<rect x="131.24" y="107.39" width="4.23" height="12.36" fill="#c3c1c7"/>
<rect x="135.96" y="107.39" width="4.23" height="12.36" fill="#c3c1c7"/>
<rect x="140.69" y="107.39" width="4.23" height="12.36" fill="#c3c1c7"/>
<rect x="145.42" y="107.39" width="4.23" height="12.36" fill="#c3c1c7"/>
<rect x="150.14" y="107.39" width="4.23" height="12.36" fill="#c3c1c7"/>
<rect x="154.87" y="107.39" width="4.23" height="12.36" fill="#c3c1c7"/>
<rect x="159.6" y="107.39" width="4.23" height="12.36" fill="#c3c1c7"/>
<rect x="164.33" y="107.39" width="4.23" height="12.36" fill="#c3c1c7"/>
<rect x="169.05" y="107.39" width="4.23" height="12.36" fill="#c3c1c7"/>
<rect x="173.78" y="107.39" width="4.23" height="12.36" fill="#c3c1c7"/>
<rect x="178.51" y="107.39" width="4.23" height="12.36" fill="#c3c1c7"/>
<rect x="183.23" y="107.39" width="4.23" height="12.36" fill="#c3c1c7"/>
<rect x="187.96" y="107.39" width="4.23" height="12.36" fill="#c3c1c7"/>
<rect x="192.69" y="107.39" width="4.23" height="12.36" fill="#c3c1c7"/>
<rect x="197.41" y="107.39" width="4.23" height="12.36" fill="#c3c1c7"/>
<rect x="202.14" y="107.39" width="4.23" height="12.36" fill="#c3c1c7"/>
<rect x="206.87" y="107.39" width="4.23" height="12.36" fill="#c3c1c7"/>
<rect x="211.59" y="107.39" width="4.23" height="12.36" fill="#c3c1c7"/>
<rect x="216.32" y="107.39" width="4.23" height="12.36" fill="#4b1c62"/>
<rect x="221.05" y="107.39" width="4.23" height="12.36" fill="#c3c1c7"/>
<rect x="225.77" y="107.39" width="4.23" height="12.36" fill="#c3c1c7"/>
<rect x="230.5" y="107.39" width="4.23" height="12.36" fill="#c3c1c7"/>
<rect x="235.23" y="107.39" width="4.23" height="12.36" fill="#c3c1c7"/>
<rect x="239.96" y="107.39" width="4.23" height="12.36" fill="#c3c1c7"/>
<rect x="244.68" y="107.39" width="4.23" height="12.36" fill="#c3c1c7"/>
<rect x="249.41" y="107.39" width="4.23" height="12.36" fill="#c3c1c7"/>
<rect x="254.14" y="107.39" width="4.23" height="12.36" fill="#c3c1c7"/>
<rect x="258.86" y="107.39" width="4.23" height="12.36" fill="#c3c1c7"/>
<rect x="263.59" y="107.39" width="4.23" height="12.36" fill="#c3c1c7"/>
<rect x="268.32" y="107.39" width="4.23" height="12.36" fill="#c3c1c7"/>
<rect x="273.04" y="107.39" width="4.23" height="12.36" fill="#c3c1c7"/>
<rect x="277.77" y="107.39" width="4.23" height="12.36" fill="#c3c1c7"/>
<rect x="282.5" y="107.39" width="4.23" height="12.36" fill="#c3c1c7"/>
<rect x="287.22" y="107.39" width="4.23" height="12.36" fill="#c3c1c7"/>
<rect x="291.95" y="107.39" width="4.23" height="12.36" fill="#c3c1c7"/>
<rect x="296.68" y="107.39" width="4.23" height="12.36" fill="#c3c1c7"/>
<rect x="301.4" y="107.39" width="4.23" height="12.36" fill="#c3c1c7"/>
<rect x="306.13" y="107.39" width="4.23" height="12.36" fill="#c3c1c7"/>
<rect x="310.86" y="107.39" width="4.23" height="12.36" fill="#c3c1c7"/>
<rect x="315.59" y="107.39" width="4.23" height="12.36" fill="#c3c1c7"/>
<rect x="320.31" y="107.39" width="4.23" height="12.36" fill="#c3c1c7"/>
<rect x="325.04" y="107.39" width="4.23" height="12.36" fill="#c3c1c7"/>
<rect x="329.77" y="107.39" width="4.23" height="12.36" fill="#c3c1c7"/>
<rect x="334.49" y="107.39" width="4.23" height="12.36" fill="#c3c1c7"/>
<rect x="339.22" y="107.39" width="4.23" height="12.36" fill="#c3c1c7"/>
<rect x="343.95" y="107.39" width="4.23" height="12.36" fill="#c3c1c7"/>
<rect x="348.67" y="107.39" width="4.23" height="12.36" fill="#c3c1c7"/>
<rect x="36.7" y="120.34" width="4.23" height="12.36" fill="#c3c1c7"/>
<rect x="41.43" y="120.34" width="4.23" height="12.36" fill="#c3c1c7"/>
<rect x="46.15" y="120.34" width="4.23" height="12.36" fill="#c3c1c7"/>
<rect x="50.88" y="120.34" width="4.23" height="12.36" fill="#c3c1c7"/>
<rect x="55.61" y="120.34" width="4.23" height="12.36" fill="#c3c1c7"/>
<rect x="60.33" y="120.34" width="4.23" height="12.36" fill="#c3c1c7"/>
<rect x="65.06" y="120.34" width="4.23" height="12.36" fill="#c3c1c7"/>
<rect x="69.79" y="120.34" width="4.23" height="12.36" fill="#c3c1c7"/>
<rect x="74.51" y="120.34" width="4.23" height="12.36" fill="#c3c1c7"/>
<rect x="79.24" y="120.34" width="4.23" height="12.36" fill="#c3c1c7"/>
<rect x="83.97" y="120.34" width="4.23" height="12.36" fill="#c3c1c7"/>
<rect x="88.7" y="120.34" width="4.23" height="12.36" fill="#c3c1c7"/>
<rect x="93.42" y="120.34" width="4.23" height="12.36" fill="#c3c1c7"/>
<rect x="98.15" y="120.34" width="4.23" height="12.36" fill="#c3c1c7"/>
<rect x="102.88" y="120.34" width="4.23" height="12.36" fill="#c3c1c7"/>
<rect x="107.6" y="120.34" width="4.23" height="12.36" fill="#c3c1c7"/>
<rect x="112.33" y="120.34" width="4.23" height="12.36" fill="#c3c1c7"/>
<rect x="117.06" y="120.34" width="4.23" height="12.36" fill="#c3c1c7"/>
<rect x="121.78" y="120.34" width="4.23" height="12.36" fill="#c3c1c7"/>
<rect x="126.51" y="120.34" width="4.23" height="12.36" fill="#c3c1c7"/>
<rect x="131.24" y="120.34" width="4.23" height="12.36" fill="#c3c1c7"/>
<rect x="135.96" y="120.34" width="4.23" height="12.36" fill="#c3c1c7"/>
<rect x="140.69" y="120.34" width="4.23" height="12.36" fill="#c3c1c7"/>
<rect x="145.42" y="120.34" width="4.23" height="12.36" fill="#c3c1c7"/>
<rect x="150.14" y="120.34" width="4.23" height="12.36" fill="#c3c1c7"/>
<rect x="154.87" y="120.34" width="4.23" height="12.36" fill="#c3c1c7"/>
<rect x="159.6" y="120.34" width="4.23" height="12.36" fill="#c3c1c7"/>
<rect x="164.33" y="120.34" width="4.23" height="12.36" fill="#c3c1c7"/>
<rect x="169.05" y="120.34" width="4.23" height="12.36" fill="#c3c1c7"/>
<rect x="173.78" y="120.34" width="4.23" height="12.36" fill="#c3c1c7"/>
<rect x="178.51" y="120.34" width="4.23" height="12.36" fill="#c3c1c7"/>
<rect x="183.23" y="120.34" width="4.23" height="12.36" fill="#c3c1c7"/>
<rect x="187.96" y="120.34" width="4.23" height="12.36" fill="#c3c1c7"/>
<rect x="192.69" y="120.34" width="4.23" height="12.36" fill="#c3c1c7"/>
<rect x="197.41" y="120.34" width="4.23" height="12.36" fill="#c3c1c7"/>
<rect x="202.14" y="120.34" width="4.23" height="12.36" fill="#c3c1c7"/>
<rect x="206.87" y="120.34" width="4.23" height="12.36" fill="#c3c1c7"/>
<rect x="211.59" y="120.34" width="4.23" height="12.36" fill="#c3c1c7"/>
<rect x="216.32" y="120.34" width="4.23" height="12.36" fill="#c3c1c7"/>
<rect x="221.05" y="120.34" width="4.23" height="12.36" fill="#c3c1c7"/>
<rect x="225.77" y="120.34" width="4.23" height="12.36" fill="#c3c1c7"/>
<rect x="230.5" y="120.34" width="4.23" height="12.36" fill="#c3c1c7"/>
<rect x="235.23" y="120.34" width="4.23" height="12.36" fill="#c3c1c7"/>
<rect x="239.96" y="120.34" width="4.23" height="12.36" fill="#c3c1c7"/>
<rect x="244.68" y="120.34" width="4.23" height="12.36" fill="#c3c1c7"/>
<rect x="249.41" y="120.34" width="4.23" height="12.36" fill="#c3c1c7"/>
<rect x="254.14" y="120.34" width="4.23" height="12.36" fill="#c3c1c7"/>
<rect x="258.86" y="120.34" width="4.23" height="12.36" fill="#c3c1c7"/>
<rect x="263.59" y="120.34" width="4.23" height="12.36" fill="#c3c1c7"/>
<rect x="268.32" y="120.34" width="4.23" height="12.36" fill="#c3c1c7"/>
<rect x="273.04" y="120.34" width="4.23" height="12.36" fill="#c3c1c7"/>
<rect x="277.77" y="120.34" width="4.23" height="12.36" fill="#c3c1c7"/>
<rect x="282.5" y="120.34" width="4.23" height="12.36" fill="#c3c1c7"/>
<rect x="287.22" y="120.34" width="4.23" height="12.36" fill="#c3c1c7"/>
<rect x="291.95" y="120.34" width="4.23" height="12.36" fill="#c3c1c7"/>
<rect x="296.68" y="120.34" width="4.23" height="12.36" fill="#c3c1c7"/>
<rect x="301.4" y="120.34" width="4.23" height="12.36" fill="#c3c1c7"/>
<rect x="306.13" y="120.34" width="4.23" height="12.36" fill="#c3c1c7"/>
<rect x="310.86" y="120.34" width="4.23" height="12.36" fill="#c3c1c7"/>
<rect x="315.59" y="120.34" width="4.23" height="12.36" fill="#c3c1c7"/>
<rect x="320.31" y="120.34" width="4.23" height="12.36" fill="#c3c1c7"/>
<rect x="325.04" y="120.34" width="4.23" height="12.36" fill="#c3c1c7"/>
<rect x="329.77" y="120.34" width="4.23" height="12.36" fill="#c3c1c7"/>
<rect x="334.49" y="120.34" width="4.23" height="12.36" fill="#c3c1c7"/>
<rect x="339.22" y="120.34" width="4.23" height="12.36" fill="#c3c1c7"/>
<rect x="343.95" y="120.34" width="4.23" height="12.36" fill="#c3c1c7"/>
<rect x="348.67" y="120.34" width="4.23" height="12.36" fill="#c3c1c7"/>
<rect x="36.7" y="133.3" width="4.23" height="12.36" fill="#c3c1c7"/>
<rect x="41.43" y="133.3" width="4.23" height="12.36" fill="#c3c1c7"/>
<rect x="46.15" y="133.3" width="4.23" height="12.36" fill="#c3c1c7"/>
<rect x="50.88" y="133.3" width="4.23" height="12.36" fill="#c3c1c7"/>
<rect x="55.61" y="133.3" width="4.23" height="12.36" fill="#c3c1c7"/>
<rect x="60.33" y="133.3" width="4.23" height="12.36" fill="#c3c1c7"/>
<rect x="65.06" y="133.3" width="4.23" height="12.36" fill="#c3c1c7"/>
<rect x="69.79" y="133.3" width="4.23" height="12.36" fill="#c3c1c7"/>
<rect x="74.51" y="133.3" width="4.23" height="12.36" fill="#c3c1c7"/>
<rect x="79.24" y="133.3" width="4.23" height="12.36" fill="#c3c1c7"/>
<rect x="83.97" y="133.3" width="4.23" height="12.36" fill="#c3c1c7"/>
<rect x="88.7" y="133.3" width="4.23" height="12.36" fill="#c3c1c7"/>
<rect x="93.42" y="133.3" width="4.23" height="12.36" fill="#c3c1c7"/>
<rect x="98.15" y="133.3" width="4.23" height="12.36" fill="#c3c1c7"/>
<rect x="102.88" y="133.3" width="4.23" height="12.36" fill="#c3c1c7"/>
<rect x="107.6" y="133.3" width="4.23" height="12.36" fill="#c3c1c7"/>
<rect x="112.33" y="133.3" width="4.23" height="12.36" fill="#c3c1c7"/>
<rect x="117.06" y="133.3" width="4.23" height="12.36" fill="#c3c1c7"/>
<rect x="121.78" y="133.3" width="4.23" height="12.36" fill="#c3c1c7"/>
<rect x="126.51" y="133.3" width="4.23" height="12.36" fill="#c3c1c7"/>
<rect x="131.24" y="133.3" width="4.23" height="12.36" fill="#c3c1c7"/>
<rect x="135.96" y="133.3" width="4.23" height="12.36" fill="#c3c1c7"/>
<rect x="140.69" y="133.3" width="4.23" height="12.36" fill="#c3c1c7"/>
<rect x="145.42" y="133.3" width="4.23" height="12.36" fill="#c3c1c7"/>
<rect x="150.14" y="133.3" width="4.23" height="12.36" fill="#c3c1c7"/>
<rect x="154.87" y="133.3" width="4.23" height="12.36" fill="#c3c1c7"/>
<rect x="159.6" y="133.3" width="4.23" height="12.36" fill="#c3c1c7"/>
<rect x="164.33" y="133.3" width="4.23" height="12.36" fill="#c3c1c7"/>
<rect x="169.05" y="133.3" width="4.23" height="12.36" fill="#c3c1c7"/>
<rect x="173.78" y="133.3" width="4.23" height="12.36" fill="#c3c1c7"/>
<rect x="178.51" y="133.3" width="4.23" height="12.36" fill="#c3c1c7"/>
<rect x="183.23" y="133.3" width="4.23" height="12.36" fill="#c3c1c7"/>
<rect x="187.96" y="133.3" width="4.23" height="12.36" fill="#c3c1c7"/>
<rect x="192.69" y="133.3" width="4.23" height="12.36" fill="#c3c1c7"/>
<rect x="197.41" y="133.3" width="4.23" height="12.36" fill="#c3c1c7"/>
<rect x="202.14" y="133.3" width="4.23" height="12.36" fill="#c3c1c7"/>
<rect x="206.87" y="133.3" width="4.23" height="12.36" fill="#c3c1c7"/>
<rect x="211.59" y="133.3" width="4.23" height="12.36" fill="#c3c1c7"/>
<rect x="216.32" y="133.3" width="4.23" height="12.36" fill="#c3c1c7"/>
<rect x="221.05" y="133.3" width="4.23" height="12.36" fill="#c3c1c7"/>
<rect x="225.77" y="133.3" width="4.23" height="12.36" fill="#c3c1c7"/>
<rect x="230.5" y="133.3" width="4.23" height="12.36" fill="#c3c1c7"/>
<rect x="235.23" y="133.3" width="4.23" height="12.36" fill="#c3c1c7"/>
<rect x="239.96" y="133.3" width="4.23" height="12.36" fill="#c3c1c7"/>
<rect x="244.68" y="133.3" width="4.23" height="12.36" fill="#c3c1c7"/>
<rect x="249.41" y="133.3" width="4.23" height="12.36" fill="#c3c1c7"/>
<rect x="254.14" y="133.3" width="4.23" height="12.36" fill="#c3c1c7"/>
<rect x="258.86" y="133.3" width="4.23" height="12.36" fill="#c3c1c7"/>
<rect x="263.59" y="133.3" width="4.23" height="12.36" fill="#c3c1c7"/>
<rect x="268.32" y="133.3" width="4.23" height="12.36" fill="#c3c1c7"/>
<rect x="273.04" y="133.3" width="4.23" height="12.36" fill="#c3c1c7"/>
<rect x="277.77" y="133.3" width="4.23" height="12.36" fill="#c3c1c7"/>
<rect x="282.5" y="133.3" width="4.23" height="12.36" fill="#c3c1c7"/>
<rect x="287.22" y="133.3" width="4.23" height="12.36" fill="#c3c1c7"/>
<rect x="291.95" y="133.3" width="4.23" height="12.36" fill="#c3c1c7"/>
<rect x="296.68" y="133.3" width="4.23" height="12.36" fill="#c3c1c7"/>
<rect x="301.4" y="133.3" width="4.23" height="12.36" fill="#c3c1c7"/>
<rect x="306.13" y="133.3" width="4.23" height="12.36" fill="#c3c1c7"/>
<rect x="310.86" y="133.3" width="4.23" height="12.36" fill="#c3c1c7"/>
<rect x="315.59" y="133.3" width="4.23" height="12.36" fill="#c3c1c7"/>
<rect x="320.31" y="133.3" width="4.23" height="12.36" fill="#c3c1c7"/>
<rect x="325.04" y="133.3" width="4.23" height="12.36" fill="#c3c1c7"/>
<rect x="329.77" y="133.3" width="4.23" height="12.36" fill="#c3c1c7"/>
<rect x="334.49" y="133.3" width="4.23" height="12.36" fill="#c3c1c7"/>
<rect x="339.22" y="133.3" width="4.23" height="12.36" fill="#c3c1c7"/>
<rect x="343.95" y="133.3" width="4.23" height="12.36" fill="#c3c1c7"/>
<rect x="348.67" y="133.3" width="4.23" height="12.36" fill="#c3c1c7"/>
<rect x="36.7" y="146.25" width="4.23" height="12.36" fill="#c3c1c7"/>
<rect x="41.43" y="146.25" width="4.23" height="12.36" fill="#c3c1c7"/>
<rect x="46.15" y="146.25" width="4.23" height="12.36" fill="#c3c1c7"/>
<rect x="50.88" y="146.25" width="4.23" height="12.36" fill="#c3c1c7"/>
<rect x="55.61" y="146.25" width="4.23" height="12.36" fill="#c3c1c7"/>
<rect x="60.33" y="146.25" width="4.23" height="12.36" fill="#c3c1c7"/>
<rect x="65.06" y="146.25" width="4.23" height="12.36" fill="#c3c1c7"/>
<rect x="69.79" y="146.25" width="4.23" height="12.36" fill="#c3c1c7"/>
<rect x="74.51" y="146.25" width="4.23" height="12.36" fill="#c3c1c7"/>
<rect x="79.24" y="146.25" width="4.23" height="12.36" fill="#c3c1c7"/>
<rect x="83.97" y="146.25" width="4.23" height="12.36" fill="#c3c1c7"/>
<rect x="88.7" y="146.25" width="4.23" height="12.36" fill="#c3c1c7"/>
<rect x="93.42" y="146.25" width="4.23" height="12.36" fill="#c3c1c7"/>
<rect x="98.15" y="146.25" width="4.23" height="12.36" fill="#c3c1c7"/>
<rect x="102.88" y="146.25" width="4.23" height="12.36" fill="#c3c1c7"/>
<rect x="107.6" y="146.25" width="4.23" height="12.36" fill="#c3c1c7"/>
<rect x="112.33" y="146.25" width="4.23" height="12.36" fill="#c3c1c7"/>
<rect x="117.06" y="146.25" width="4.23" height="12.36" fill="#c3c1c7"/>
<rect x="121.78" y="146.25" width="4.23" height="12.36" fill="#c3c1c7"/>
<rect x="126.51" y="146.25" width="4.23" height="12.36" fill="#c3c1c7"/>
<rect x="131.24" y="146.25" width="4.23" height="12.36" fill="#c3c1c7"/>
<rect x="135.96" y="146.25" width="4.23" height="12.36" fill="#c3c1c7"/>
<rect x="140.69" y="146.25" width="4.23" height="12.36" fill="#c3c1c7"/>
<rect x="145.42" y="146.25" width="4.23" height="12.36" fill="#c3c1c7"/>
<rect x="150.14" y="146.25" width="4.23" height="12.36" fill="#c3c1c7"/>
<rect x="154.87" y="146.25" width="4.23" height="12.36" fill="#c3c1c7"/>
<rect x="159.6" y="146.25" width="4.23" height="12.36" fill="#c3c1c7"/>
<rect x="164.33" y="146.25" width="4.23" height="12.36" fill="#c3c1c7"/>
<rect x="169.05" y="146.25" width="4.23" height="12.36" fill="#c3c1c7"/>
<rect x="173.78" y="146.25" width="4.23" height="12.36" fill="#c3c1c7"/>
<rect x="178.51" y="146.25" width="4.23" height="12.36" fill="#c3c1c7"/>
<rect x="183.23" y="146.25" width="4.23" height="12.36" fill="#c3c1c7"/>
<rect x="187.96" y="146.25" width="4.23" height="12.36" fill="#c3c1c7"/>
<rect x="192.69" y="146.25" width="4.23" height="12.36" fill="#c3c1c7"/>
<rect x="197.41" y="146.25" width="4.23" height="12.36" fill="#c3c1c7"/>
<rect x="202.14" y="146.25" width="4.23" height="12.36" fill="#c3c1c7"/>
<rect x="206.87" y="146.25" width="4.23" height="12.36" fill="#c3c1c7"/>
<rect x="211.59" y="146.25" width="4.23" height="12.36" fill="#c3c1c7"/>
<rect x="216.32" y="146.25" width="4.23" height="12.36" fill="#c3c1c7"/>
<rect x="221.05" y="146.25" width="4.23" height="12.36" fill="#c3c1c7"/>
<rect x="225.77" y="146.25" width="4.23" height="12.36" fill="#c3c1c7"/>
<rect x="230.5" y="146.25" width="4.23" height="12.36" fill="#c3c1c7"/>
<rect x="235.23" y="146.25" width="4.23" height="12.36" fill="#c3c1c7"/>
<rect x="239.96" y="146.25" width="4.23" height="12.36" fill="#c3c1c7"/>
<rect x="244.68" y="146.25" width="4.23" height="12.36" fill="#c3c1c7"/>
<rect x="249.41" y="146.25" width="4.23" height="12.36" fill="#c3c1c7"/>
<rect x="254.14" y="146.25" width="4.23" height="12.36" fill="#c3c1c7"/>
<rect x="258.86" y="146.25" width="4.23" height="12.36" fill="#c3c1c7"/>
<rect x="263.59" y="146.25" width="4.23" height="12.36" fill="#c3c1c7"/>
<rect x="268.32" y="146.25" width="4.23" height="12.36" fill="#c3c1c7"/>
<rect x="273.04" y="146.25" width="4.23" height="12.36" fill="#c3c1c7"/>
<rect x="277.77" y="146.25" width="4.23" height="12.36" fill="#c3c1c7"/>
<rect x="282.5" y="146.25" width="4.23" height="12.36" fill="#c3c1c7"/>
<rect x="287.22" y="146.25" width="4.23" height="12.36" fill="#c3c1c7"/>
<rect x="291.95" y="146.25" width="4.23" height="12.36" fill="#c3c1c7"/>
<rect x="296.68" y="146.25" width="4.23" height="12.36" fill="#c3c1c7"/>
<rect x="301.4" y="146.25" width="4.23" height="12.36" fill="#c3c1c7"/>
<rect x="306.13" y="146.25" width="4.23" height="12.36" fill="#c3c1c7"/>
<rect x="310.86" y="146.25" width="4.23" height="12.36" fill="#c3c1c7"/>
<rect x="315.59" y="146.25" width="4.23" height="12.36" fill="#c3c1c7"/>
<rect x="320.31" y="146.25" width="4.23" height="12.36" fill="#c3c1c7"/>
<rect x="325.04" y="146.25" width="4.23" height="12.36" fill="#c3c1c7"/>
<rect x="329.77" y="146.25" width="4.23" height="12.36" fill="#c3c1c7"/>
<rect x="334.49" y="146.25" width="4.23" height="12.36" fill="#c3c1c7"/>
<rect x="339.22" y="146.25" width="4.23" height="12.36" fill="#c3c1c7"/>
<rect x="343.95" y="146.25" width="4.23" height="12.36" fill="#c3c1c7"/>
<rect x="348.67" y="146.25" width="4.23" height="12.36" fill="#c3c1c7"/>
<rect x="36.7" y="159.21" width="4.23" height="12.36" fill="#c3c1c7"/>
<rect x="41.43" y="159.21" width="4.23" height="12.36" fill="#c3c1c7"/>
<rect x="46.15" y="159.21" width="4.23" height="12.36" fill="#c3c1c7"/>
<rect x="50.88" y="159.21" width="4.23" height="12.36" fill="#c3c1c7"/>
<rect x="55.61" y="159.21" width="4.23" height="12.36" fill="#c3c1c7"/>
<rect x="60.33" y="159.21" width="4.23" height="12.36" fill="#c3c1c7"/>
<rect x="65.06" y="159.21" width="4.23" height="12.36" fill="#c3c1c7"/>
<rect x="69.79" y="159.21" width="4.23" height="12.36" fill="#c3c1c7"/>
<rect x="74.51" y="159.21" width="4.23" height="12.36" fill="#c3c1c7"/>
<rect x="79.24" y="159.21" width="4.23" height="12.36" fill="#c3c1c7"/>
<rect x="83.97" y="159.21" width="4.23" height="12.36" fill="#c3c1c7"/>
<rect x="88.7" y="159.21" width="4.23" height="12.36" fill="#c3c1c7"/>
<rect x="93.42" y="159.21" width="4.23" height="12.36" fill="#c3c1c7"/>
<rect x="98.15" y="159.21" width="4.23" height="12.36" fill="#c3c1c7"/>
<rect x="102.88" y="159.21" width="4.23" height="12.36" fill="#c3c1c7"/>
<rect x="107.6" y="159.21" width="4.23" height="12.36" fill="#c3c1c7"/>
<rect x="112.33" y="159.21" width="4.23" height="12.36" fill="#c3c1c7"/>
<rect x="117.06" y="159.21" width="4.23" height="12.36" fill="#c3c1c7"/>
<rect x="121.78" y="159.21" width="4.23" height="12.36" fill="#c3c1c7"/>
<rect x="126.51" y="159.21" width="4.23" height="12.36" fill="#c3c1c7"/>
<rect x="131.24" y="159.21" width="4.23" height="12.36" fill="#c3c1c7"/>
<rect x="135.96" y="159.21" width="4.23" height="12.36" fill="#c3c1c7"/>
<rect x="140.69" y="159.21" width="4.23" height="12.36" fill="#c3c1c7"/>
<rect x="145.42" y="159.21" width="4.23" height="12.36" fill="#c3c1c7"/>
<rect x="150.14" y="159.21" width="4.23" height="12.36" fill="#c3c1c7"/>
<rect x="154.87" y="159.21" width="4.23" height="12.36" fill="#c3c1c7"/>
<rect x="159.6" y="159.21" width="4.23" height="12.36" fill="#c3c1c7"/>
<rect x="164.33" y="159.21" width="4.23" height="12.36" fill="#c3c1c7"/>
<rect x="169.05" y="159.21" width="4.23" height="12.36" fill="#c3c1c7"/>
<rect x="173.78" y="159.21" width="4.23" height="12.36" fill="#c3c1c7"/>
<rect x="178.51" y="159.21" width="4.23" height="12.36" fill="#c3c1c7"/>
<rect x="183.23" y="159.21" width="4.23" height="12.36" fill="#c3c1c7"/>
<rect x="187.96" y="159.21" width="4.23" height="12.36" fill="#c3c1c7"/>
<rect x="192.69" y="159.21" width="4.23" height="12.36" fill="#c3c1c7"/>
<rect x="197.41" y="159.21" width="4.23" height="12.36" fill="#c3c1c7"/>
<rect x="202.14" y="159.21" width="4.23" height="12.36" fill="#c3c1c7"/>
<rect x="206.87" y="159.21" width="4.23" height="12.36" fill="#c3c1c7"/>
<rect x="211.59" y="159.21" width="4.23" height="12.36" fill="#c3c1c7"/>
<rect x="216.32" y="159.21" width="4.23" height="12.36" fill="#c3c1c7"/>
<rect x="221.05" y="159.21" width="4.23" height="12.36" fill="#c3c1c7"/>
<rect x="225.77" y="159.21" width="4.23" height="12.36" fill="#c3c1c7"/>
<rect x="230.5" y="159.21" width="4.23" height="12.36" fill="#c3c1c7"/>
<rect x="235.23" y="159.21" width="4.23" height="12.36" fill="#c3c1c7"/>
<rect x="239.96" y="159.21" width="4.23" height="12.36" fill="#c3c1c7"/>
<rect x="244.68" y="159.21" width="4.23" height="12.36" fill="#c3c1c7"/>
<rect x="249.41" y="159.21" width="4.23" height="12.36" fill="#c3c1c7"/>
<rect x="254.14" y="159.21" width="4.23" height="12.36" fill="#c3c1c7"/>
<rect x="258.86" y="159.21" width="4.23" height="12.36" fill="#c3c1c7"/>
<rect x="263.59" y="159.21" width="4.23" height="12.36" fill="#c3c1c7"/>
<rect x="268.32" y="159.21" width="4.23" height="12.36" fill="#c3c1c7"/>
<rect x="273.04" y="159.21" width="4.23" height="12.36" fill="#c3c1c7"/>
<rect x="277.77" y="159.21" width="4.23" height="12.36" fill="#c3c1c7"/>
<rect x="282.5" y="159.21" width="4.23" height="12.36" fill="#c3c1c7"/>
<rect x="287.22" y="159.21" width="4.23" height="12.36" fill="#c3c1c7"/>
<rect x="291.95" y="159.21" width="4.23" height="12.36" fill="#c3c1c7"/>
<rect x="296.68" y="159.21" width="4.23" height="12.36" fill="#c3c1c7"/>
<rect x="301.4" y="159.21" width="4.23" height="12.36" fill="#c3c1c7"/>
<rect x="306.13" y="159.21" width="4.23" height="12.36" fill="#c3c1c7"/>
<rect x="310.86" y="159.21" width="4.23" height="12.36" fill="#c3c1c7"/>
<rect x="315.59" y="159.21" width="4.23" height="12.36" fill="#c3c1c7"/>
<rect x="320.31" y="159.21" width="4.23" height="12.36" fill="#c3c1c7"/>
<rect x="325.04" y="159.21" width="4.23" height="12.36" fill="#c3c1c7"/>
<rect x="329.77" y="159.21" width="4.23" height="12.36" fill="#c3c1c7"/>
<rect x="334.49" y="159.21" width="4.23" height="12.36" fill="#c3c1c7"/>
<rect x="339.22" y="159.21" width="4.23" height="12.36" fill="#c3c1c7"/>
<rect x="343.95" y="159.21" width="4.23" height="12.36" fill="#c3c1c7"/>
<rect x="348.67" y="159.21" width="4.23" height="12.36" fill="#c3c1c7"/>
<rect x="36.7" y="172.16" width="4.23" height="12.36" fill="#c3c1c7"/>
<rect x="41.43" y="172.16" width="4.23" height="12.36" fill="#c3c1c7"/>
<rect x="46.15" y="172.16" width="4.23" height="12.36" fill="#c3c1c7"/>
<rect x="50.88" y="172.16" width="4.23" height="12.36" fill="#c3c1c7"/>
<rect x="55.61" y="172.16" width="4.23" height="12.36" fill="#c3c1c7"/>
<rect x="60.33" y="172.16" width="4.23" height="12.36" fill="#c3c1c7"/>
<rect x="65.06" y="172.16" width="4.23" height="12.36" fill="#c3c1c7"/>
<rect x="69.79" y="172.16" width="4.23" height="12.36" fill="#c3c1c7"/>
<rect x="74.51" y="172.16" width="4.23" height="12.36" fill="#c3c1c7"/>
<rect x="79.24" y="172.16" width="4.23" height="12.36" fill="#c3c1c7"/>
<rect x="83.97" y="172.16" width="4.23" height="12.36" fill="#c3c1c7"/>
<rect x="88.7" y="172.16" width="4.23" height="12.36" fill="#c3c1c7"/>
<rect x="93.42" y="172.16" width="4.23" height="12.36" fill="#c3c1c7"/>
<rect x="98.15" y="172.16" width="4.23" height="12.36" fill="#c3c1c7"/>
<rect x="102.88" y="172.16" width="4.23" height="12.36" fill="#c3c1c7"/>
<rect x="107.6" y="172.16" width="4.23" height="12.36" fill="#c3c1c7"/>
<rect x="112.33" y="172.16" width="4.23" height="12.36" fill="#c3c1c7"/>
<rect x="117.06" y="172.16" width="4.23" height="12.36" fill="#c3c1c7"/>
<rect x="121.78" y="172.16" width="4.23" height="12.36" fill="#c3c1c7"/>
<rect x="126.51" y="172.16" width="4.23" height="12.36" fill="#c3c1c7"/>
<rect x="131.24" y="172.16" width="4.23" height="12.36" fill="#c3c1c7"/>
<rect x="135.96" y="172.16" width="4.23" height="12.36" fill="#c3c1c7"/>
<rect x="140.69" y="172.16" width="4.23" height="12.36" fill="#c3c1c7"/>
<rect x="145.42" y="172.16" width="4.23" height="12.36" fill="#c3c1c7"/>
<rect x="150.14" y="172.16" width="4.23" height="12.36" fill="#c3c1c7"/>
<rect x="154.87" y="172.16" width="4.23" height="12.36" fill="#c3c1c7"/>
<rect x="159.6" y="172.16" width="4.23" height="12.36" fill="#c3c1c7"/>
<rect x="164.33" y="172.16" width="4.23" height="12.36" fill="#c3c1c7"/>
<rect x="169.05" y="172.16" width="4.23" height="12.36" fill="#c3c1c7"/>
<rect x="173.78" y="172.16" width="4.23" height="12.36" fill="#c3c1c7"/>
<rect x="178.51" y="172.16" width="4.23" height="12.36" fill="#c3c1c7"/>
<rect x="183.23" y="172.16" width="4.23" height="12.36" fill="#c3c1c7"/>
<rect x="187.96" y="172.16" width="4.23" height="12.36" fill="#c3c1c7"/>
<rect x="192.69" y="172.16" width="4.23" height="12.36" fill="#c3c1c7"/>
<rect x="197.41" y="172.16" width="4.23" height="12.36" fill="#c3c1c7"/>
<rect x="202.14" y="172.16" width="4.23" height="12.36" fill="#c3c1c7"/>
<rect x="206.87" y="172.16" width="4.23" height="12.36" fill="#c3c1c7"/>
<rect x="211.59" y="172.16" width="4.23" height="12.36" fill="#c3c1c7"/>
<rect x="216.32" y="172.16" width="4.23" height="12.36" fill="#c3c1c7"/>
<rect x="221.05" y="172.16" width="4.23" height="12.36" fill="#c3c1c7"/>
<rect x="225.77" y="172.16" width="4.23" height="12.36" fill="#c3c1c7"/>
<rect x="230.5" y="172.16" width="4.23" height="12.36" fill="#c3c1c7"/>
<rect x="235.23" y="172.16" width="4.23" height="12.36" fill="#c3c1c7"/>
<rect x="239.96" y="172.16" width="4.23" height="12.36" fill="#c3c1c7"/>
<rect x="244.68" y="172.16" width="4.23" height="12.36" fill="#c3c1c7"/>
<rect x="249.41" y="172.16" width="4.23" height="12.36" fill="#c3c1c7"/>
<rect x="254.14" y="172.16" width="4.23" height="12.36" fill="#c3c1c7"/>
<rect x="258.86" y="172.16" width="4.23" height="12.36" fill="#c3c1c7"/>
<rect x="263.59" y="172.16" width="4.23" height="12.36" fill="#c3c1c7"/>
<rect x="268.32" y="172.16" width="4.23" height="12.36" fill="#c3c1c7"/>
<rect x="273.04" y="172.16" width="4.23" height="12.36" fill="#c3c1c7"/>
<rect x="277.77" y="172.16" width="4.23" height="12.36" fill="#c3c1c7"/>
<rect x="282.5" y="172.16" width="4.23" height="12.36" fill="#c3c1c7"/>
<rect x="287.22" y="172.16" width="4.23" height="12.36" fill="#c3c1c7"/>
<rect x="291.95" y="172.16" width="4.23" height="12.36" fill="#c3c1c7"/>
<rect x="296.68" y="172.16" width="4.23" height="12.36" fill="#c3c1c7"/>
<rect x="301.4" y="172.16" width="4.23" height="12.36" fill="#c3c1c7"/>
<rect x="306.13" y="172.16" width="4.23" height="12.36" fill="#c3c1c7"/>
<rect x="310.86" y="172.16" width="4.23" height="12.36" fill="#c3c1c7"/>
<rect x="315.59" y="172.16" width="4.23" height="12.36" fill="#c3c1c7"/>
<rect x="320.31" y="172.16" width="4.23" height="12.36" fill="#c3c1c7"/>
<rect x="325.04" y="172.16" width="4.23" height="12.36" fill="#c3c1c7"/>
<rect x="329.77" y="172.16" width="4.23" height="12.36" fill="#c3c1c7"/>
<rect x="334.49" y="172.16" width="4.23" height="12.36" fill="#c3c1c7"/>
<rect x="339.22" y="172.16" width="4.23" height="12.36" fill="#c3c1c7"/>
<rect x="343.95" y="172.16" width="4.23" height="12.36" fill="#c3c1c7"/>
<rect x="348.67" y="172.16" width="4.23" height="12.36" fill="#c3c1c7"/>
<rect x="36.7" y="185.12" width="4.23" height="12.36" fill="#8a7cc2"/>
<rect x="41.43" y="185.12" width="4.23" height="12.36" fill="#c3c1c7"/>
<rect x="46.15" y="185.12" width="4.23" height="12.36" fill="#c3c1c7"/>
<rect x="50.88" y="185.12" width="4.23" height="12.36" fill="#c3c1c7"/>
<rect x="55.61" y="185.12" width="4.23" height="12.36" fill="#c3c1c7"/>
<rect x="60.33" y="185.12" width="4.23" height="12.36" fill="#c3c1c7"/>
<rect x="65.06" y="185.12" width="4.23" height="12.36" fill="#c3c1c7"/>
<rect x="69.79" y="185.12" width="4.23" height="12.36" fill="#c3c1c7"/>
<rect x="74.51" y="185.12" width="4.23" height="12.36" fill="#c3c1c7"/>
<rect x="79.24" y="185.12" width="4.23" height="12.36" fill="#c3c1c7"/>
<rect x="83.97" y="185.12" width="4.23" height="12.36" fill="#c3c1c7"/>
<rect x="88.7" y="185.12" width="4.23" height="12.36" fill="#c3c1c7"/>
<rect x="93.42" y="185.12" width="4.23" height="12.36" fill="#c3c1c7"/>
<rect x="98.15" y="185.12" width="4.23" height="12.36" fill="#c3c1c7"/>
<rect x="102.88" y="185.12" width="4.23" height="12.36" fill="#c3c1c7"/>
<rect x="107.6" y="185.12" width="4.23" height="12.36" fill="#c3c1c7"/>
<rect x="112.33" y="185.12" width="4.23" height="12.36" fill="#c3c1c7"/>
<rect x="117.06" y="185.12" width="4.23" height="12.36" fill="#c3c1c7"/>
<rect x="121.78" y="185.12" width="4.23" height="12.36" fill="#c3c1c7"/>
<rect x="126.51" y="185.12" width="4.23" height="12.36" fill="#c3c1c7"/>
<rect x="131.24" y="185.12" width="4.23" height="12.36" fill="#c3c1c7"/>
<rect x="135.96" y="185.12" width="4.23" height="12.36" fill="#c3c1c7"/>
<rect x="140.69" y="185.12" width="4.23" height="12.36" fill="#c3c1c7"/>
<rect x="145.42" y="185.12" width="4.23" height="12.36" fill="#c3c1c7"/>
<rect x="150.14" y="185.12" width="4.23" height="12.36" fill="#c3c1c7"/>
<rect x="154.87" y="185.12" width="4.23" height="12.36" fill="#c3c1c7"/>
<rect x="159.6" y="185.12" width="4.23" height="12.36" fill="#c3c1c7"/>
<rect x="164.33" y="185.12" width="4.23" height="12.36" fill="#c3c1c7"/>
<rect x="169.05" y="185.12" width="4.23" height="12.36" fill="#c3c1c7"/>
<rect x="173.78" y="185.12" width="4.23" height="12.36" fill="#8a7cc2"/>
<rect x="178.51" y="185.12" width="4.23" height="12.36" fill="#c3c1c7"/>
<rect x="183.23" y="185.12" width="4.23" height="12.36" fill="#c3c1c7"/>
<rect x="187.96" y="185.12" width="4.23" height="12.36" fill="#c3c1c7"/>
<rect x="192.69" y="185.12" width="4.23" height="12.36" fill="#c3c1c7"/>
<rect x="197.41" y="185.12" width="4.23" height="12.36" fill="#c3c1c7"/>
<rect x="202.14" y="185.12" width="4.23" height="12.36" fill="#c3c1c7"/>
<rect x="206.87" y="185.12" width="4.23" height="12.36" fill="#c3c1c7"/>
<rect x="211.59" y="185.12" width="4.23" height="12.36" fill="#c3c1c7"/>
<rect x="216.32" y="185.12" width="4.23" height="12.36" fill="#c3c1c7"/>
<rect x="221.05" y="185.12" width="4.23" height="12.36" fill="#c3c1c7"/>
<rect x="225.77" y="185.12" width="4.23" height="12.36" fill="#c3c1c7"/>
<rect x="230.5" y="185.12" width="4.23" height="12.36" fill="#c3c1c7"/>
<rect x="235.23" y="185.12" width="4.23" height="12.36" fill="#c3c1c7"/>
<rect x="239.96" y="185.12" width="4.23" height="12.36" fill="#c3c1c7"/>
<rect x="244.68" y="185.12" width="4.23" height="12.36" fill="#c3c1c7"/>
<rect x="249.41" y="185.12" width="4.23" height="12.36" fill="#c3c1c7"/>
<rect x="254.14" y="185.12" width="4.23" height="12.36" fill="#c3c1c7"/>
<rect x="258.86" y="185.12" width="4.23" height="12.36" fill="#c3c1c7"/>
<rect x="263.59" y="185.12" width="4.23" height="12.36" fill="#c3c1c7"/>
<rect x="268.32" y="185.12" width="4.23" height="12.36" fill="#c3c1c7"/>
<rect x="273.04" y="185.12" width="4.23" height="12.36" fill="#c3c1c7"/>
<rect x="277.77" y="185.12" width="4.23" height="12.36" fill="#c3c1c7"/>
<rect x="282.5" y="185.12" width="4.23" height="12.36" fill="#c3c1c7"/>
<rect x="287.22" y="185.12" width="4.23" height="12.36" fill="#c3c1c7"/>
<rect x="291.95" y="185.12" width="4.23" height="12.36" fill="#c3c1c7"/>
<rect x="296.68" y="185.12" width="4.23" height="12.36" fill="#c3c1c7"/>
<rect x="301.4" y="185.12" width="4.23" height="12.36" fill="#c3c1c7"/>
<rect x="306.13" y="185.12" width="4.23" height="12.36" fill="#c3c1c7"/>
<rect x="310.86" y="185.12" width="4.23" height="12.36" fill="#c3c1c7"/>
<rect x="315.59" y="185.12" width="4.23" height="12.36" fill="#c3c1c7"/>
<rect x="320.31" y="185.12" width="4.23" height="12.36" fill="#c3c1c7"/>
<rect x="325.04" y="185.12" width="4.23" height="12.36" fill="#c3c1c7"/>
<rect x="329.77" y="185.12" width="4.23" height="12.36" fill="#c3c1c7"/>
<rect x="334.49" y="185.12" width="4.23" height="12.36" fill="#c3c1c7"/>
<rect x="339.22" y="185.12" width="4.23" height="12.36" fill="#c3c1c7"/>
<rect x="343.95" y="185.12" width="4.23" height="12.36" fill="#c3c1c7"/>
<rect x="348.67" y="185.12" width="4.23" height="12.36" fill="#c3c1c7"/>
<rect x="36.7" y="198.07" width="4.23" height="12.36" fill="#c3c1c7"/>
<rect x="41.43" y="198.07" width="4.23" height="12.36" fill="#c3c1c7"/>
<rect x="46.15" y="198.07" width="4.23" height="12.36" fill="#c3c1c7"/>
<rect x="50.88" y="198.07" width="4.23" height="12.36" fill="#c3c1c7"/>
<rect x="55.61" y="198.07" width="4.23" height="12.36" fill="#c3c1c7"/>
<rect x="60.33" y="198.07" width="4.23" height="12.36" fill="#c3c1c7"/>
<rect x="65.06" y="198.07" width="4.23" height="12.36" fill="#c3c1c7"/>
<rect x="69.79" y="198.07" width="4.23" height="12.36" fill="#c3c1c7"/>
<rect x="74.51" y="198.07" width="4.23" height="12.36" fill="#c3c1c7"/>
<rect x="79.24" y="198.07" width="4.23" height="12.36" fill="#c3c1c7"/>
<rect x="83.97" y="198.07" width="4.23" height="12.36" fill="#c3c1c7"/>
<rect x="88.7" y="198.07" width="4.23" height="12.36" fill="#c3c1c7"/>
<rect x="93.42" y="198.07" width="4.23" height="12.36" fill="#c3c1c7"/>
<rect x="98.15" y="198.07" width="4.23" height="12.36" fill="#c3c1c7"/>
<rect x="102.88" y="198.07" width="4.23" height="12.36" fill="#c3c1c7"/>
<rect x="107.6" y="198.07" width="4.23" height="12.36" fill="#c3c1c7"/>
<rect x="112.33" y="198.07" width="4.23" height="12.36" fill="#c3c1c7"/>
<rect x="117.06" y="198.07" width="4.23" height="12.36" fill="#c3c1c7"/>
<rect x="121.78" y="198.07" width="4.23" height="12.36" fill="#c3c1c7"/>
<rect x="126.51" y="198.07" width="4.23" height="12.36" fill="#c3c1c7"/>
<rect x="131.24" y="198.07" width="4.23" height="12.36" fill="#c3c1c7"/>
<rect x="135.96" y="198.07" width="4.23" height="12.36" fill="#c3c1c7"/>
<rect x="140.69" y="198.07" width="4.23" height="12.36" fill="#c3c1c7"/>
<rect x="145.42" y="198.07" width="4.23" height="12.36" fill="#c3c1c7"/>
<rect x="150.14" y="198.07" width="4.23" height="12.36" fill="#c3c1c7"/>
<rect x="154.87" y="198.07" width="4.23" height="12.36" fill="#c3c1c7"/>
<rect x="159.6" y="198.07" width="4.23" height="12.36" fill="#c3c1c7"/>
<rect x="164.33" y="198.07" width="4.23" height="12.36" fill="#c3c1c7"/>
<rect x="169.05" y="198.07" width="4.23" height="12.36" fill="#c3c1c7"/>
<rect x="173.78" y="198.07" width="4.23" height="12.36" fill="#c3c1c7"/>
<rect x="178.51" y="198.07" width="4.23" height="12.36" fill="#c3c1c7"/>
<rect x="183.23" y="198.07" width="4.23" height="12.36" fill="#c3c1c7"/>
<rect x="187.96" y="198.07" width="4.23" height="12.36" fill="#c3c1c7"/>
<rect x="192.69" y="198.07" width="4.23" height="12.36" fill="#c3c1c7"/>
<rect x="197.41" y="198.07" width="4.23" height="12.36" fill="#c3c1c7"/>
<rect x="202.14" y="198.07" width="4.23" height="12.36" fill="#c3c1c7"/>
<rect x="206.87" y="198.07" width="4.23" height="12.36" fill="#c3c1c7"/>
<rect x="211.59" y="198.07" width="4.23" height="12.36" fill="#c3c1c7"/>
<rect x="216.32" y="198.07" width="4.23" height="12.36" fill="#c3c1c7"/>
<rect x="221.05" y="198.07" width="4.23" height="12.36" fill="#c3c1c7"/>
<rect x="225.77" y="198.07" width="4.23" height="12.36" fill="#c3c1c7"/>
<rect x="230.5" y="198.07" width="4.23" height="12.36" fill="#c3c1c7"/>
<rect x="235.23" y="198.07" width="4.23" height="12.36" fill="#c3c1c7"/>
<rect x="239.96" y="198.07" width="4.23" height="12.36" fill="#c3c1c7"/>
<rect x="244.68" y="198.07" width="4.23" height="12.36" fill="#c3c1c7"/>
<rect x="249.41" y="198.07" width="4.23" height="12.36" fill="#c3c1c7"/>
<rect x="254.14" y="198.07" width="4.23" height="12.36" fill="#c3c1c7"/>
<rect x="258.86" y="198.07" width="4.23" height="12.36" fill="#c3c1c7"/>
<rect x="263.59" y="198.07" width="4.23" height="12.36" fill="#c3c1c7"/>
<rect x="268.32" y="198.07" width="4.23" height="12.36" fill="#c3c1c7"/>
<rect x="273.04" y="198.07" width="4.23" height="12.36" fill="#c3c1c7"/>
<rect x="277.77" y="198.07" width="4.23" height="12.36" fill="#c3c1c7"/>
<rect x="282.5" y="198.07" width="4.23" height="12.36" fill="#c3c1c7"/>
<rect x="287.22" y="198.07" width="4.23" height="12.36" fill="#c3c1c7"/>
<rect x="291.95" y="198.07" width="4.23" height="12.36" fill="#c3c1c7"/>
<rect x="296.68" y="198.07" width="4.23" height="12.36" fill="#c3c1c7"/>
<rect x="301.4" y="198.07" width="4.23" height="12.36" fill="#c3c1c7"/>
<rect x="306.13" y="198.07" width="4.23" height="12.36" fill="#c3c1c7"/>
<rect x="310.86" y="198.07" width="4.23" height="12.36" fill="#c3c1c7"/>
<rect x="315.59" y="198.07" width="4.23" height="12.36" fill="#c3c1c7"/>
<rect x="320.31" y="198.07" width="4.23" height="12.36" fill="#c3c1c7"/>
<rect x="325.04" y="198.07" width="4.23" height="12.36" fill="#c3c1c7"/>
<rect x="329.77" y="198.07" width="4.23" height="12.36" fill="#c3c1c7"/>
<rect x="334.49" y="198.07" width="4.23" height="12.36" fill="#c3c1c7"/>
<rect x="339.22" y="198.07" width="4.23" height="12.36" fill="#c3c1c7"/>
<rect x="343.95" y="198.07" width="4.23" height="12.36" fill="#c3c1c7"/>
<rect x="348.67" y="198.07" width="4.23" height="12.36" fill="#c3c1c7"/>
</g>
<g class="soft">
<rect x="361.75" y="16.7" width="4.23" height="12.36" fill="#4a5065"/>
<rect x="366.48" y="16.7" width="4.23" height="12.36" fill="#4a5065"/>
<rect x="371.22" y="16.7" width="4.23" height="12.36" fill="#4a5065"/>
<rect x="375.95" y="16.7" width="4.23" height="12.36" fill="#4a5065"/>
<rect x="380.69" y="16.7" width="4.23" height="12.36" fill="#4a5065"/>
<rect x="385.42" y="16.7" width="4.23" height="12.36" fill="#4a5065"/>
<rect x="390.16" y="16.7" width="4.23" height="12.36" fill="#4a5065"/>
<rect x="394.89" y="16.7" width="4.23" height="12.36" fill="#4a5065"/>
<rect x="399.62" y="16.7" width="4.23" height="12.36" fill="#4a5065"/>
<rect x="404.36" y="16.7" width="4.23" height="12.36" fill="#4a5065"/>
<rect x="409.09" y="16.7" width="4.23" height="12.36" fill="#4a5065"/>
<rect x="413.83" y="16.7" width="4.23" height="12.36" fill="#4a5065"/>
<rect x="418.56" y="16.7" width="4.23" height="12.36" fill="#4a5065"/>
<rect x="423.3" y="16.7" width="4.23" height="12.36" fill="#4a5065"/>
<rect x="428.03" y="16.7" width="4.23" height="12.36" fill="#4a5065"/>
<rect x="432.77" y="16.7" width="4.23" height="12.36" fill="#4a5065"/>
<rect x="437.5" y="16.7" width="4.23" height="12.36" fill="#4a5065"/>
<rect x="442.23" y="16.7" width="4.23" height="12.36" fill="#4a5065"/>
<rect x="446.97" y="16.7" width="4.23" height="12.36" fill="#4a5065"/>
<rect x="451.7" y="16.7" width="4.23" height="12.36" fill="#4a5065"/>
<rect x="456.44" y="16.7" width="4.23" height="12.36" fill="#4a5065"/>
<rect x="461.17" y="16.7" width="4.23" height="12.36" fill="#4a5065"/>
<rect x="465.91" y="16.7" width="4.23" height="12.36" fill="#4a5065"/>
<rect x="470.64" y="16.7" width="4.23" height="12.36" fill="#4a5065"/>
<rect x="475.38" y="16.7" width="4.23" height="12.36" fill="#4a5065"/>
<rect x="480.11" y="16.7" width="4.23" height="12.36" fill="#4a5065"/>
<rect x="484.84" y="16.7" width="4.23" height="12.36" fill="#4a5065"/>
<rect x="489.58" y="16.7" width="4.23" height="12.36" fill="#4a5065"/>
<rect x="494.31" y="16.7" width="4.23" height="12.36" fill="#4a5065"/>
<rect x="499.05" y="16.7" width="4.23" height="12.36" fill="#4a5065"/>
<rect x="503.78" y="16.7" width="4.23" height="12.36" fill="#4a5065"/>
<rect x="508.52" y="16.7" width="4.23" height="12.36" fill="#4a5065"/>
<rect x="361.75" y="29.65" width="4.23" height="12.36" fill="#efbe18"/>
<rect x="366.48" y="29.65" width="4.23" height="12.36" fill="#eecbc3"/>
<rect x="371.22" y="29.65" width="4.23" height="12.36" fill="#eecbc3"/>
<rect x="375.95" y="29.65" width="4.23" height="12.36" fill="#eecbc3"/>
<rect x="380.69" y="29.65" width="4.23" height="12.36" fill="#efbe18"/>
<rect x="385.42" y="29.65" width="4.23" height="12.36" fill="#efbe18"/>
<rect x="390.16" y="29.65" width="4.23" height="12.36" fill="#efbe18"/>
<rect x="394.89" y="29.65" width="4.23" height="12.36" fill="#efbe18"/>
<rect x="399.62" y="29.65" width="4.23" height="12.36" fill="#efbe18"/>
<rect x="404.36" y="29.65" width="4.23" height="12.36" fill="#efbe18"/>
<rect x="409.09" y="29.65" width="4.23" height="12.36" fill="#efbe18"/>
<rect x="413.83" y="29.65" width="4.23" height="12.36" fill="#efbe18"/>
<rect x="418.56" y="29.65" width="4.23" height="12.36" fill="#efbe18"/>
<rect x="423.3" y="29.65" width="4.23" height="12.36" fill="#eecbc3"/>
<rect x="428.03" y="29.65" width="4.23" height="12.36" fill="#efbe18"/>
<rect x="432.77" y="29.65" width="4.23" height="12.36" fill="#efbe18"/>
<rect x="437.5" y="29.65" width="4.23" height="12.36" fill="#eecbc3"/>
<rect x="442.23" y="29.65" width="4.23" height="12.36" fill="#eecbc3"/>
<rect x="446.97" y="29.65" width="4.23" height="12.36" fill="#efbe18"/>
<rect x="451.7" y="29.65" width="4.23" height="12.36" fill="#efbe18"/>
<rect x="456.44" y="29.65" width="4.23" height="12.36" fill="#efbe18"/>
<rect x="461.17" y="29.65" width="4.23" height="12.36" fill="#eecbc3"/>
<rect x="465.91" y="29.65" width="4.23" height="12.36" fill="#efbe18"/>
<rect x="470.64" y="29.65" width="4.23" height="12.36" fill="#efbe18"/>
<rect x="475.38" y="29.65" width="4.23" height="12.36" fill="#efbe18"/>
<rect x="480.11" y="29.65" width="4.23" height="12.36" fill="#efbe18"/>
<rect x="484.84" y="29.65" width="4.23" height="12.36" fill="#efbe18"/>
<rect x="489.58" y="29.65" width="4.23" height="12.36" fill="#efbe18"/>
<rect x="494.31" y="29.65" width="4.23" height="12.36" fill="#eecbc3"/>
<rect x="499.05" y="29.65" width="4.23" height="12.36" fill="#eecbc3"/>
<rect x="503.78" y="29.65" width="4.23" height="12.36" fill="#eecbc3"/>
<rect x="508.52" y="29.65" width="4.23" height="12.36" fill="#eecbc3"/>
<rect x="361.75" y="42.61" width="4.23" height="12.36" fill="#c3c1c7"/>
<rect x="366.48" y="42.61" width="4.23" height="12.36" fill="#d48a7c"/>
<rect x="371.22" y="42.61" width="4.23" height="12.36" fill="#c3c1c7"/>
<rect x="375.95" y="42.61" width="4.23" height="12.36" fill="#d48a7c"/>
<rect x="380.69" y="42.61" width="4.23" height="12.36" fill="#c3c1c7"/>
<rect x="385.42" y="42.61" width="4.23" height="12.36" fill="#d48a7c"/>
<rect x="390.16" y="42.61" width="4.23" height="12.36" fill="#c3c1c7"/>
<rect x="394.89" y="42.61" width="4.23" height="12.36" fill="#c3c1c7"/>
<rect x="399.62" y="42.61" width="4.23" height="12.36" fill="#c3c1c7"/>
<rect x="404.36" y="42.61" width="4.23" height="12.36" fill="#c3c1c7"/>
<rect x="409.09" y="42.61" width="4.23" height="12.36" fill="#c3c1c7"/>
<rect x="413.83" y="42.61" width="4.23" height="12.36" fill="#d48a7c"/>
<rect x="418.56" y="42.61" width="4.23" height="12.36" fill="#d48a7c"/>
<rect x="423.3" y="42.61" width="4.23" height="12.36" fill="#d48a7c"/>
<rect x="428.03" y="42.61" width="4.23" height="12.36" fill="#d48a7c"/>
<rect x="432.77" y="42.61" width="4.23" height="12.36" fill="#c3c1c7"/>
<rect x="437.5" y="42.61" width="4.23" height="12.36" fill="#c3c1c7"/>
<rect x="442.23" y="42.61" width="4.23" height="12.36" fill="#c3c1c7"/>
<rect x="446.97" y="42.61" width="4.23" height="12.36" fill="#d48a7c"/>
<rect x="451.7" y="42.61" width="4.23" height="12.36" fill="#d48a7c"/>
<rect x="456.44" y="42.61" width="4.23" height="12.36" fill="#c3c1c7"/>
<rect x="461.17" y="42.61" width="4.23" height="12.36" fill="#c3c1c7"/>
<rect x="465.91" y="42.61" width="4.23" height="12.36" fill="#c3c1c7"/>
<rect x="470.64" y="42.61" width="4.23" height="12.36" fill="#c3c1c7"/>
<rect x="475.38" y="42.61" width="4.23" height="12.36" fill="#c3c1c7"/>
<rect x="480.11" y="42.61" width="4.23" height="12.36" fill="#c3c1c7"/>
<rect x="484.84" y="42.61" width="4.23" height="12.36" fill="#c3c1c7"/>
<rect x="489.58" y="42.61" width="4.23" height="12.36" fill="#d48a7c"/>
<rect x="494.31" y="42.61" width="4.23" height="12.36" fill="#d48a7c"/>
<rect x="499.05" y="42.61" width="4.23" height="12.36" fill="#d48a7c"/>
<rect x="503.78" y="42.61" width="4.23" height="12.36" fill="#d48a7c"/>
<rect x="508.52" y="42.61" width="4.23" height="12.36" fill="#d48a7c"/>
<rect x="361.75" y="55.56" width="4.23" height="12.36" fill="#c3c1c7"/>
<rect x="366.48" y="55.56" width="4.23" height="12.36" fill="#c3c1c7"/>
<rect x="371.22" y="55.56" width="4.23" height="12.36" fill="#c3c1c7"/>
<rect x="375.95" y="55.56" width="4.23" height="12.36" fill="#a6002b"/>
<rect x="380.69" y="55.56" width="4.23" height="12.36" fill="#c3c1c7"/>
<rect x="385.42" y="55.56" width="4.23" height="12.36" fill="#c3c1c7"/>
<rect x="390.16" y="55.56" width="4.23" height="12.36" fill="#c3c1c7"/>
<rect x="394.89" y="55.56" width="4.23" height="12.36" fill="#c3c1c7"/>
<rect x="399.62" y="55.56" width="4.23" height="12.36" fill="#c3c1c7"/>
<rect x="404.36" y="55.56" width="4.23" height="12.36" fill="#c3c1c7"/>
<rect x="409.09" y="55.56" width="4.23" height="12.36" fill="#c3c1c7"/>
<rect x="413.83" y="55.56" width="4.23" height="12.36" fill="#c3c1c7"/>
<rect x="418.56" y="55.56" width="4.23" height="12.36" fill="#a6002b"/>
<rect x="423.3" y="55.56" width="4.23" height="12.36" fill="#c3c1c7"/>
<rect x="428.03" y="55.56" width="4.23" height="12.36" fill="#c3c1c7"/>
<rect x="432.77" y="55.56" width="4.23" height="12.36" fill="#c3c1c7"/>
<rect x="437.5" y="55.56" width="4.23" height="12.36" fill="#c3c1c7"/>
<rect x="442.23" y="55.56" width="4.23" height="12.36" fill="#c3c1c7"/>
<rect x="446.97" y="55.56" width="4.23" height="12.36" fill="#c3c1c7"/>
<rect x="451.7" y="55.56" width="4.23" height="12.36" fill="#c3c1c7"/>
<rect x="456.44" y="55.56" width="4.23" height="12.36" fill="#a6002b"/>
<rect x="461.17" y="55.56" width="4.23" height="12.36" fill="#c3c1c7"/>
<rect x="465.91" y="55.56" width="4.23" height="12.36" fill="#c3c1c7"/>
<rect x="470.64" y="55.56" width="4.23" height="12.36" fill="#c3c1c7"/>
<rect x="475.38" y="55.56" width="4.23" height="12.36" fill="#c3c1c7"/>
<rect x="480.11" y="55.56" width="4.23" height="12.36" fill="#c3c1c7"/>
<rect x="484.84" y="55.56" width="4.23" height="12.36" fill="#c3c1c7"/>
<rect x="489.58" y="55.56" width="4.23" height="12.36" fill="#a6002b"/>
<rect x="494.31" y="55.56" width="4.23" height="12.36" fill="#c3c1c7"/>
<rect x="499.05" y="55.56" width="4.23" height="12.36" fill="#c3c1c7"/>
<rect x="503.78" y="55.56" width="4.23" height="12.36" fill="#a6002b"/>
<rect x="508.52" y="55.56" width="4.23" height="12.36" fill="#a6002b"/>
<rect x="361.75" y="68.52" width="4.23" height="12.36" fill="#c3c1c7"/>
<rect x="366.48" y="68.52" width="4.23" height="12.36" fill="#62a6e0"/>
<rect x="371.22" y="68.52" width="4.23" height="12.36" fill="#62a6e0"/>
<rect x="375.95" y="68.52" width="4.23" height="12.36" fill="#c3c1c7"/>
<rect x="380.69" y="68.52" width="4.23" height="12.36" fill="#c3c1c7"/>
<rect x="385.42" y="68.52" width="4.23" height="12.36" fill="#c3c1c7"/>
<rect x="390.16" y="68.52" width="4.23" height="12.36" fill="#62a6e0"/>
<rect x="394.89" y="68.52" width="4.23" height="12.36" fill="#c3c1c7"/>
<rect x="399.62" y="68.52" width="4.23" height="12.36" fill="#c3c1c7"/>
<rect x="404.36" y="68.52" width="4.23" height="12.36" fill="#c3c1c7"/>
<rect x="409.09" y="68.52" width="4.23" height="12.36" fill="#c3c1c7"/>
<rect x="413.83" y="68.52" width="4.23" height="12.36" fill="#c3c1c7"/>
<rect x="418.56" y="68.52" width="4.23" height="12.36" fill="#c3c1c7"/>
<rect x="423.3" y="68.52" width="4.23" height="12.36" fill="#62a6e0"/>
<rect x="428.03" y="68.52" width="4.23" height="12.36" fill="#c3c1c7"/>
<rect x="432.77" y="68.52" width="4.23" height="12.36" fill="#62a6e0"/>
<rect x="437.5" y="68.52" width="4.23" height="12.36" fill="#c3c1c7"/>
<rect x="442.23" y="68.52" width="4.23" height="12.36" fill="#c3c1c7"/>
<rect x="446.97" y="68.52" width="4.23" height="12.36" fill="#62a6e0"/>
<rect x="451.7" y="68.52" width="4.23" height="12.36" fill="#c3c1c7"/>
<rect x="456.44" y="68.52" width="4.23" height="12.36" fill="#c3c1c7"/>
<rect x="461.17" y="68.52" width="4.23" height="12.36" fill="#c3c1c7"/>
<rect x="465.91" y="68.52" width="4.23" height="12.36" fill="#c3c1c7"/>
<rect x="470.64" y="68.52" width="4.23" height="12.36" fill="#c3c1c7"/>
<rect x="475.38" y="68.52" width="4.23" height="12.36" fill="#c3c1c7"/>
<rect x="480.11" y="68.52" width="4.23" height="12.36" fill="#c3c1c7"/>
<rect x="484.84" y="68.52" width="4.23" height="12.36" fill="#c3c1c7"/>
<rect x="489.58" y="68.52" width="4.23" height="12.36" fill="#c3c1c7"/>
<rect x="494.31" y="68.52" width="4.23" height="12.36" fill="#c3c1c7"/>
<rect x="499.05" y="68.52" width="4.23" height="12.36" fill="#c3c1c7"/>
<rect x="503.78" y="68.52" width="4.23" height="12.36" fill="#cfe0f6"/>
<rect x="508.52" y="68.52" width="4.23" height="12.36" fill="#c3c1c7"/>
<rect x="361.75" y="81.48" width="4.23" height="12.36" fill="#5aa532"/>
<rect x="366.48" y="81.48" width="4.23" height="12.36" fill="#5aa532"/>
<rect x="371.22" y="81.48" width="4.23" height="12.36" fill="#4a5065"/>
<rect x="375.95" y="81.48" width="4.23" height="12.36" fill="#4a5065"/>
<rect x="380.69" y="81.48" width="4.23" height="12.36" fill="#5aa532"/>
<rect x="385.42" y="81.48" width="4.23" height="12.36" fill="#5aa532"/>
<rect x="390.16" y="81.48" width="4.23" height="12.36" fill="#5aa532"/>
<rect x="394.89" y="81.48" width="4.23" height="12.36" fill="#5aa532"/>
<rect x="399.62" y="81.48" width="4.23" height="12.36" fill="#5aa532"/>
<rect x="404.36" y="81.48" width="4.23" height="12.36" fill="#5aa532"/>
<rect x="409.09" y="81.48" width="4.23" height="12.36" fill="#5aa532"/>
<rect x="413.83" y="81.48" width="4.23" height="12.36" fill="#5aa532"/>
<rect x="418.56" y="81.48" width="4.23" height="12.36" fill="#4a5065"/>
<rect x="423.3" y="81.48" width="4.23" height="12.36" fill="#5aa532"/>
<rect x="428.03" y="81.48" width="4.23" height="12.36" fill="#5aa532"/>
<rect x="432.77" y="81.48" width="4.23" height="12.36" fill="#5aa532"/>
<rect x="437.5" y="81.48" width="4.23" height="12.36" fill="#5aa532"/>
<rect x="442.23" y="81.48" width="4.23" height="12.36" fill="#5aa532"/>
<rect x="446.97" y="81.48" width="4.23" height="12.36" fill="#4a5065"/>
<rect x="451.7" y="81.48" width="4.23" height="12.36" fill="#5aa532"/>
<rect x="456.44" y="81.48" width="4.23" height="12.36" fill="#5aa532"/>
<rect x="461.17" y="81.48" width="4.23" height="12.36" fill="#4a5065"/>
<rect x="465.91" y="81.48" width="4.23" height="12.36" fill="#4a5065"/>
<rect x="470.64" y="81.48" width="4.23" height="12.36" fill="#4a5065"/>
<rect x="475.38" y="81.48" width="4.23" height="12.36" fill="#4a5065"/>
<rect x="480.11" y="81.48" width="4.23" height="12.36" fill="#4a5065"/>
<rect x="484.84" y="81.48" width="4.23" height="12.36" fill="#4a5065"/>
<rect x="489.58" y="81.48" width="4.23" height="12.36" fill="#4a5065"/>
<rect x="494.31" y="81.48" width="4.23" height="12.36" fill="#4a5065"/>
<rect x="499.05" y="81.48" width="4.23" height="12.36" fill="#4a5065"/>
<rect x="503.78" y="81.48" width="4.23" height="12.36" fill="#4a5065"/>
<rect x="508.52" y="81.48" width="4.23" height="12.36" fill="#4a5065"/>
<rect x="361.75" y="94.43" width="4.23" height="12.36" fill="#21407e"/>
<rect x="366.48" y="94.43" width="4.23" height="12.36" fill="#21407e"/>
<rect x="371.22" y="94.43" width="4.23" height="12.36" fill="#21407e"/>
<rect x="375.95" y="94.43" width="4.23" height="12.36" fill="#21407e"/>
<rect x="380.69" y="94.43" width="4.23" height="12.36" fill="#21407e"/>
<rect x="385.42" y="94.43" width="4.23" height="12.36" fill="#21407e"/>
<rect x="390.16" y="94.43" width="4.23" height="12.36" fill="#21407e"/>
<rect x="394.89" y="94.43" width="4.23" height="12.36" fill="#21407e"/>
<rect x="399.62" y="94.43" width="4.23" height="12.36" fill="#21407e"/>
<rect x="404.36" y="94.43" width="4.23" height="12.36" fill="#21407e"/>
<rect x="409.09" y="94.43" width="4.23" height="12.36" fill="#21407e"/>
<rect x="413.83" y="94.43" width="4.23" height="12.36" fill="#21407e"/>
<rect x="418.56" y="94.43" width="4.23" height="12.36" fill="#21407e"/>
<rect x="423.3" y="94.43" width="4.23" height="12.36" fill="#21407e"/>
<rect x="428.03" y="94.43" width="4.23" height="12.36" fill="#21407e"/>
<rect x="432.77" y="94.43" width="4.23" height="12.36" fill="#21407e"/>
<rect x="437.5" y="94.43" width="4.23" height="12.36" fill="#21407e"/>
<rect x="442.23" y="94.43" width="4.23" height="12.36" fill="#21407e"/>
<rect x="446.97" y="94.43" width="4.23" height="12.36" fill="#21407e"/>
<rect x="451.7" y="94.43" width="4.23" height="12.36" fill="#21407e"/>
<rect x="456.44" y="94.43" width="4.23" height="12.36" fill="#21407e"/>
<rect x="461.17" y="94.43" width="4.23" height="12.36" fill="#21407e"/>
<rect x="465.91" y="94.43" width="4.23" height="12.36" fill="#4a5065"/>
<rect x="470.64" y="94.43" width="4.23" height="12.36" fill="#4a5065"/>
<rect x="475.38" y="94.43" width="4.23" height="12.36" fill="#4a5065"/>
<rect x="480.11" y="94.43" width="4.23" height="12.36" fill="#4a5065"/>
<rect x="484.84" y="94.43" width="4.23" height="12.36" fill="#4a5065"/>
<rect x="489.58" y="94.43" width="4.23" height="12.36" fill="#4a5065"/>
<rect x="494.31" y="94.43" width="4.23" height="12.36" fill="#4a5065"/>
<rect x="499.05" y="94.43" width="4.23" height="12.36" fill="#4a5065"/>
<rect x="503.78" y="94.43" width="4.23" height="12.36" fill="#4a5065"/>
<rect x="508.52" y="94.43" width="4.23" height="12.36" fill="#4a5065"/>
<rect x="361.75" y="107.39" width="4.23" height="12.36" fill="#c3c1c7"/>
<rect x="366.48" y="107.39" width="4.23" height="12.36" fill="#c3c1c7"/>
<rect x="371.22" y="107.39" width="4.23" height="12.36" fill="#c3c1c7"/>
<rect x="375.95" y="107.39" width="4.23" height="12.36" fill="#c3c1c7"/>
<rect x="380.69" y="107.39" width="4.23" height="12.36" fill="#c3c1c7"/>
<rect x="385.42" y="107.39" width="4.23" height="12.36" fill="#c3c1c7"/>
<rect x="390.16" y="107.39" width="4.23" height="12.36" fill="#c3c1c7"/>
<rect x="394.89" y="107.39" width="4.23" height="12.36" fill="#c3c1c7"/>
<rect x="399.62" y="107.39" width="4.23" height="12.36" fill="#c3c1c7"/>
<rect x="404.36" y="107.39" width="4.23" height="12.36" fill="#c3c1c7"/>
<rect x="409.09" y="107.39" width="4.23" height="12.36" fill="#c3c1c7"/>
<rect x="413.83" y="107.39" width="4.23" height="12.36" fill="#c3c1c7"/>
<rect x="418.56" y="107.39" width="4.23" height="12.36" fill="#c3c1c7"/>
<rect x="423.3" y="107.39" width="4.23" height="12.36" fill="#c3c1c7"/>
<rect x="428.03" y="107.39" width="4.23" height="12.36" fill="#c3c1c7"/>
<rect x="432.77" y="107.39" width="4.23" height="12.36" fill="#c3c1c7"/>
<rect x="437.5" y="107.39" width="4.23" height="12.36" fill="#c3c1c7"/>
<rect x="442.23" y="107.39" width="4.23" height="12.36" fill="#c3c1c7"/>
<rect x="446.97" y="107.39" width="4.23" height="12.36" fill="#c3c1c7"/>
<rect x="451.7" y="107.39" width="4.23" height="12.36" fill="#c3c1c7"/>
<rect x="456.44" y="107.39" width="4.23" height="12.36" fill="#c3c1c7"/>
<rect x="461.17" y="107.39" width="4.23" height="12.36" fill="#c3c1c7"/>
<rect x="465.91" y="107.39" width="4.23" height="12.36" fill="#c3c1c7"/>
<rect x="470.64" y="107.39" width="4.23" height="12.36" fill="#c3c1c7"/>
<rect x="475.38" y="107.39" width="4.23" height="12.36" fill="#c3c1c7"/>
<rect x="480.11" y="107.39" width="4.23" height="12.36" fill="#c3c1c7"/>
<rect x="484.84" y="107.39" width="4.23" height="12.36" fill="#c3c1c7"/>
<rect x="489.58" y="107.39" width="4.23" height="12.36" fill="#c3c1c7"/>
<rect x="494.31" y="107.39" width="4.23" height="12.36" fill="#c3c1c7"/>
<rect x="499.05" y="107.39" width="4.23" height="12.36" fill="#c3c1c7"/>
<rect x="503.78" y="107.39" width="4.23" height="12.36" fill="#c3c1c7"/>
<rect x="508.52" y="107.39" width="4.23" height="12.36" fill="#c3c1c7"/>
<rect x="361.75" y="120.34" width="4.23" height="12.36" fill="#c8007c"/>
<rect x="366.48" y="120.34" width="4.23" height="12.36" fill="#c8007c"/>
<rect x="371.22" y="120.34" width="4.23" height="12.36" fill="#c3c1c7"/>
<rect x="375.95" y="120.34" width="4.23" height="12.36" fill="#c3c1c7"/>
<rect x="380.69" y="120.34" width="4.23" height="12.36" fill="#c3c1c7"/>
<rect x="385.42" y="120.34" width="4.23" height="12.36" fill="#c3c1c7"/>
<rect x="390.16" y="120.34" width="4.23" height="12.36" fill="#c3c1c7"/>
<rect x="394.89" y="120.34" width="4.23" height="12.36" fill="#c3c1c7"/>
<rect x="399.62" y="120.34" width="4.23" height="12.36" fill="#c3c1c7"/>
<rect x="404.36" y="120.34" width="4.23" height="12.36" fill="#c3c1c7"/>
<rect x="409.09" y="120.34" width="4.23" height="12.36" fill="#c3c1c7"/>
<rect x="413.83" y="120.34" width="4.23" height="12.36" fill="#c3c1c7"/>
<rect x="418.56" y="120.34" width="4.23" height="12.36" fill="#c3c1c7"/>
<rect x="423.3" y="120.34" width="4.23" height="12.36" fill="#c3c1c7"/>
<rect x="428.03" y="120.34" width="4.23" height="12.36" fill="#c3c1c7"/>
<rect x="432.77" y="120.34" width="4.23" height="12.36" fill="#c3c1c7"/>
<rect x="437.5" y="120.34" width="4.23" height="12.36" fill="#c3c1c7"/>
<rect x="442.23" y="120.34" width="4.23" height="12.36" fill="#c3c1c7"/>
<rect x="446.97" y="120.34" width="4.23" height="12.36" fill="#c3c1c7"/>
<rect x="451.7" y="120.34" width="4.23" height="12.36" fill="#c3c1c7"/>
<rect x="456.44" y="120.34" width="4.23" height="12.36" fill="#c3c1c7"/>
<rect x="461.17" y="120.34" width="4.23" height="12.36" fill="#c3c1c7"/>
<rect x="465.91" y="120.34" width="4.23" height="12.36" fill="#c3c1c7"/>
<rect x="470.64" y="120.34" width="4.23" height="12.36" fill="#c3c1c7"/>
<rect x="475.38" y="120.34" width="4.23" height="12.36" fill="#c3c1c7"/>
<rect x="480.11" y="120.34" width="4.23" height="12.36" fill="#c3c1c7"/>
<rect x="484.84" y="120.34" width="4.23" height="12.36" fill="#c3c1c7"/>
<rect x="489.58" y="120.34" width="4.23" height="12.36" fill="#c3c1c7"/>
<rect x="494.31" y="120.34" width="4.23" height="12.36" fill="#c3c1c7"/>
<rect x="499.05" y="120.34" width="4.23" height="12.36" fill="#c3c1c7"/>
<rect x="503.78" y="120.34" width="4.23" height="12.36" fill="#c3c1c7"/>
<rect x="508.52" y="120.34" width="4.23" height="12.36" fill="#c3c1c7"/>
<rect x="361.75" y="133.3" width="4.23" height="12.36" fill="#c3c1c7"/>
<rect x="366.48" y="133.3" width="4.23" height="12.36" fill="#c3c1c7"/>
<rect x="371.22" y="133.3" width="4.23" height="12.36" fill="#d3589a"/>
<rect x="375.95" y="133.3" width="4.23" height="12.36" fill="#d3589a"/>
<rect x="380.69" y="133.3" width="4.23" height="12.36" fill="#c3c1c7"/>
<rect x="385.42" y="133.3" width="4.23" height="12.36" fill="#c3c1c7"/>
<rect x="390.16" y="133.3" width="4.23" height="12.36" fill="#c3c1c7"/>
<rect x="394.89" y="133.3" width="4.23" height="12.36" fill="#c3c1c7"/>
<rect x="399.62" y="133.3" width="4.23" height="12.36" fill="#c3c1c7"/>
<rect x="404.36" y="133.3" width="4.23" height="12.36" fill="#c3c1c7"/>
<rect x="409.09" y="133.3" width="4.23" height="12.36" fill="#c3c1c7"/>
<rect x="413.83" y="133.3" width="4.23" height="12.36" fill="#c3c1c7"/>
<rect x="418.56" y="133.3" width="4.23" height="12.36" fill="#c3c1c7"/>
<rect x="423.3" y="133.3" width="4.23" height="12.36" fill="#c3c1c7"/>
<rect x="428.03" y="133.3" width="4.23" height="12.36" fill="#c3c1c7"/>
<rect x="432.77" y="133.3" width="4.23" height="12.36" fill="#c3c1c7"/>
<rect x="437.5" y="133.3" width="4.23" height="12.36" fill="#c3c1c7"/>
<rect x="442.23" y="133.3" width="4.23" height="12.36" fill="#c3c1c7"/>
<rect x="446.97" y="133.3" width="4.23" height="12.36" fill="#c3c1c7"/>
<rect x="451.7" y="133.3" width="4.23" height="12.36" fill="#c3c1c7"/>
<rect x="456.44" y="133.3" width="4.23" height="12.36" fill="#c3c1c7"/>
<rect x="461.17" y="133.3" width="4.23" height="12.36" fill="#c3c1c7"/>
<rect x="465.91" y="133.3" width="4.23" height="12.36" fill="#c3c1c7"/>
<rect x="470.64" y="133.3" width="4.23" height="12.36" fill="#c3c1c7"/>
<rect x="475.38" y="133.3" width="4.23" height="12.36" fill="#c3c1c7"/>
<rect x="480.11" y="133.3" width="4.23" height="12.36" fill="#c3c1c7"/>
<rect x="484.84" y="133.3" width="4.23" height="12.36" fill="#c3c1c7"/>
<rect x="489.58" y="133.3" width="4.23" height="12.36" fill="#c3c1c7"/>
<rect x="494.31" y="133.3" width="4.23" height="12.36" fill="#c3c1c7"/>
<rect x="499.05" y="133.3" width="4.23" height="12.36" fill="#c3c1c7"/>
<rect x="503.78" y="133.3" width="4.23" height="12.36" fill="#c3c1c7"/>
<rect x="508.52" y="133.3" width="4.23" height="12.36" fill="#c3c1c7"/>
<rect x="361.75" y="146.25" width="4.23" height="12.36" fill="#c3c1c7"/>
<rect x="366.48" y="146.25" width="4.23" height="12.36" fill="#c3c1c7"/>
<rect x="371.22" y="146.25" width="4.23" height="12.36" fill="#c3c1c7"/>
<rect x="375.95" y="146.25" width="4.23" height="12.36" fill="#c3c1c7"/>
<rect x="380.69" y="146.25" width="4.23" height="12.36" fill="#f3d1e4"/>
<rect x="385.42" y="146.25" width="4.23" height="12.36" fill="#e295c1"/>
<rect x="390.16" y="146.25" width="4.23" height="12.36" fill="#f3d1e4"/>
<rect x="394.89" y="146.25" width="4.23" height="12.36" fill="#f3d1e4"/>
<rect x="399.62" y="146.25" width="4.23" height="12.36" fill="#f3d1e4"/>
<rect x="404.36" y="146.25" width="4.23" height="12.36" fill="#f3d1e4"/>
<rect x="409.09" y="146.25" width="4.23" height="12.36" fill="#f3d1e4"/>
<rect x="413.83" y="146.25" width="4.23" height="12.36" fill="#f3d1e4"/>
<rect x="418.56" y="146.25" width="4.23" height="12.36" fill="#f3d1e4"/>
<rect x="423.3" y="146.25" width="4.23" height="12.36" fill="#f3d1e4"/>
<rect x="428.03" y="146.25" width="4.23" height="12.36" fill="#c3c1c7"/>
<rect x="432.77" y="146.25" width="4.23" height="12.36" fill="#c3c1c7"/>
<rect x="437.5" y="146.25" width="4.23" height="12.36" fill="#c3c1c7"/>
<rect x="442.23" y="146.25" width="4.23" height="12.36" fill="#c3c1c7"/>
<rect x="446.97" y="146.25" width="4.23" height="12.36" fill="#c3c1c7"/>
<rect x="451.7" y="146.25" width="4.23" height="12.36" fill="#c3c1c7"/>
<rect x="456.44" y="146.25" width="4.23" height="12.36" fill="#c3c1c7"/>
<rect x="461.17" y="146.25" width="4.23" height="12.36" fill="#c3c1c7"/>
<rect x="465.91" y="146.25" width="4.23" height="12.36" fill="#c3c1c7"/>
<rect x="470.64" y="146.25" width="4.23" height="12.36" fill="#c3c1c7"/>
<rect x="475.38" y="146.25" width="4.23" height="12.36" fill="#c3c1c7"/>
<rect x="480.11" y="146.25" width="4.23" height="12.36" fill="#c3c1c7"/>
<rect x="484.84" y="146.25" width="4.23" height="12.36" fill="#c3c1c7"/>
<rect x="489.58" y="146.25" width="4.23" height="12.36" fill="#c3c1c7"/>
<rect x="494.31" y="146.25" width="4.23" height="12.36" fill="#c3c1c7"/>
<rect x="499.05" y="146.25" width="4.23" height="12.36" fill="#c3c1c7"/>
<rect x="503.78" y="146.25" width="4.23" height="12.36" fill="#c3c1c7"/>
<rect x="508.52" y="146.25" width="4.23" height="12.36" fill="#c3c1c7"/>
<rect x="361.75" y="159.21" width="4.23" height="12.36" fill="#c3c1c7"/>
<rect x="366.48" y="159.21" width="4.23" height="12.36" fill="#c3c1c7"/>
<rect x="371.22" y="159.21" width="4.23" height="12.36" fill="#c3c1c7"/>
<rect x="375.95" y="159.21" width="4.23" height="12.36" fill="#c3c1c7"/>
<rect x="380.69" y="159.21" width="4.23" height="12.36" fill="#c3c1c7"/>
<rect x="385.42" y="159.21" width="4.23" height="12.36" fill="#c3c1c7"/>
<rect x="390.16" y="159.21" width="4.23" height="12.36" fill="#c3c1c7"/>
<rect x="394.89" y="159.21" width="4.23" height="12.36" fill="#c3c1c7"/>
<rect x="399.62" y="159.21" width="4.23" height="12.36" fill="#c3c1c7"/>
<rect x="404.36" y="159.21" width="4.23" height="12.36" fill="#c3c1c7"/>
<rect x="409.09" y="159.21" width="4.23" height="12.36" fill="#c3c1c7"/>
<rect x="413.83" y="159.21" width="4.23" height="12.36" fill="#c3c1c7"/>
<rect x="418.56" y="159.21" width="4.23" height="12.36" fill="#c3c1c7"/>
<rect x="423.3" y="159.21" width="4.23" height="12.36" fill="#c3c1c7"/>
<rect x="428.03" y="159.21" width="4.23" height="12.36" fill="#a9bd7a"/>
<rect x="432.77" y="159.21" width="4.23" height="12.36" fill="#a9bd7a"/>
<rect x="437.5" y="159.21" width="4.23" height="12.36" fill="#a9bd7a"/>
<rect x="442.23" y="159.21" width="4.23" height="12.36" fill="#a9bd7a"/>
<rect x="446.97" y="159.21" width="4.23" height="12.36" fill="#c3c1c7"/>
<rect x="451.7" y="159.21" width="4.23" height="12.36" fill="#c3c1c7"/>
<rect x="456.44" y="159.21" width="4.23" height="12.36" fill="#c3c1c7"/>
<rect x="461.17" y="159.21" width="4.23" height="12.36" fill="#c3c1c7"/>
<rect x="465.91" y="159.21" width="4.23" height="12.36" fill="#c3c1c7"/>
<rect x="470.64" y="159.21" width="4.23" height="12.36" fill="#c3c1c7"/>
<rect x="475.38" y="159.21" width="4.23" height="12.36" fill="#c3c1c7"/>
<rect x="480.11" y="159.21" width="4.23" height="12.36" fill="#c3c1c7"/>
<rect x="484.84" y="159.21" width="4.23" height="12.36" fill="#c3c1c7"/>
<rect x="489.58" y="159.21" width="4.23" height="12.36" fill="#c3c1c7"/>
<rect x="494.31" y="159.21" width="4.23" height="12.36" fill="#c3c1c7"/>
<rect x="499.05" y="159.21" width="4.23" height="12.36" fill="#c3c1c7"/>
<rect x="503.78" y="159.21" width="4.23" height="12.36" fill="#c3c1c7"/>
<rect x="508.52" y="159.21" width="4.23" height="12.36" fill="#c3c1c7"/>
<rect x="361.75" y="172.16" width="4.23" height="12.36" fill="#c3c1c7"/>
<rect x="366.48" y="172.16" width="4.23" height="12.36" fill="#c3c1c7"/>
<rect x="371.22" y="172.16" width="4.23" height="12.36" fill="#c3c1c7"/>
<rect x="375.95" y="172.16" width="4.23" height="12.36" fill="#c3c1c7"/>
<rect x="380.69" y="172.16" width="4.23" height="12.36" fill="#c3c1c7"/>
<rect x="385.42" y="172.16" width="4.23" height="12.36" fill="#c3c1c7"/>
<rect x="390.16" y="172.16" width="4.23" height="12.36" fill="#c3c1c7"/>
<rect x="394.89" y="172.16" width="4.23" height="12.36" fill="#c3c1c7"/>
<rect x="399.62" y="172.16" width="4.23" height="12.36" fill="#c3c1c7"/>
<rect x="404.36" y="172.16" width="4.23" height="12.36" fill="#c3c1c7"/>
<rect x="409.09" y="172.16" width="4.23" height="12.36" fill="#c3c1c7"/>
<rect x="413.83" y="172.16" width="4.23" height="12.36" fill="#c3c1c7"/>
<rect x="418.56" y="172.16" width="4.23" height="12.36" fill="#c3c1c7"/>
<rect x="423.3" y="172.16" width="4.23" height="12.36" fill="#c3c1c7"/>
<rect x="428.03" y="172.16" width="4.23" height="12.36" fill="#c3c1c7"/>
<rect x="432.77" y="172.16" width="4.23" height="12.36" fill="#c3c1c7"/>
<rect x="437.5" y="172.16" width="4.23" height="12.36" fill="#c3c1c7"/>
<rect x="442.23" y="172.16" width="4.23" height="12.36" fill="#c3c1c7"/>
<rect x="446.97" y="172.16" width="4.23" height="12.36" fill="#de8b14"/>
<rect x="451.7" y="172.16" width="4.23" height="12.36" fill="#de8b14"/>
<rect x="456.44" y="172.16" width="4.23" height="12.36" fill="#c3c1c7"/>
<rect x="461.17" y="172.16" width="4.23" height="12.36" fill="#c3c1c7"/>
<rect x="465.91" y="172.16" width="4.23" height="12.36" fill="#c3c1c7"/>
<rect x="470.64" y="172.16" width="4.23" height="12.36" fill="#c3c1c7"/>
<rect x="475.38" y="172.16" width="4.23" height="12.36" fill="#c3c1c7"/>
<rect x="480.11" y="172.16" width="4.23" height="12.36" fill="#c3c1c7"/>
<rect x="484.84" y="172.16" width="4.23" height="12.36" fill="#c3c1c7"/>
<rect x="489.58" y="172.16" width="4.23" height="12.36" fill="#c3c1c7"/>
<rect x="494.31" y="172.16" width="4.23" height="12.36" fill="#c3c1c7"/>
<rect x="499.05" y="172.16" width="4.23" height="12.36" fill="#c3c1c7"/>
<rect x="503.78" y="172.16" width="4.23" height="12.36" fill="#c3c1c7"/>
<rect x="508.52" y="172.16" width="4.23" height="12.36" fill="#c3c1c7"/>
<rect x="361.75" y="185.12" width="4.23" height="12.36" fill="#c3c1c7"/>
<rect x="366.48" y="185.12" width="4.23" height="12.36" fill="#c3c1c7"/>
<rect x="371.22" y="185.12" width="4.23" height="12.36" fill="#c3c1c7"/>
<rect x="375.95" y="185.12" width="4.23" height="12.36" fill="#c3c1c7"/>
<rect x="380.69" y="185.12" width="4.23" height="12.36" fill="#8a7cc2"/>
<rect x="385.42" y="185.12" width="4.23" height="12.36" fill="#8a7cc2"/>
<rect x="390.16" y="185.12" width="4.23" height="12.36" fill="#c3c1c7"/>
<rect x="394.89" y="185.12" width="4.23" height="12.36" fill="#c3c1c7"/>
<rect x="399.62" y="185.12" width="4.23" height="12.36" fill="#c3c1c7"/>
<rect x="404.36" y="185.12" width="4.23" height="12.36" fill="#c3c1c7"/>
<rect x="409.09" y="185.12" width="4.23" height="12.36" fill="#c3c1c7"/>
<rect x="413.83" y="185.12" width="4.23" height="12.36" fill="#c3c1c7"/>
<rect x="418.56" y="185.12" width="4.23" height="12.36" fill="#c3c1c7"/>
<rect x="423.3" y="185.12" width="4.23" height="12.36" fill="#c3c1c7"/>
<rect x="428.03" y="185.12" width="4.23" height="12.36" fill="#c3c1c7"/>
<rect x="432.77" y="185.12" width="4.23" height="12.36" fill="#c3c1c7"/>
<rect x="437.5" y="185.12" width="4.23" height="12.36" fill="#c3c1c7"/>
<rect x="442.23" y="185.12" width="4.23" height="12.36" fill="#c3c1c7"/>
<rect x="446.97" y="185.12" width="4.23" height="12.36" fill="#c3c1c7"/>
<rect x="451.7" y="185.12" width="4.23" height="12.36" fill="#c3c1c7"/>
<rect x="456.44" y="185.12" width="4.23" height="12.36" fill="#8a7cc2"/>
<rect x="461.17" y="185.12" width="4.23" height="12.36" fill="#8a7cc2"/>
<rect x="465.91" y="185.12" width="4.23" height="12.36" fill="#c3c1c7"/>
<rect x="470.64" y="185.12" width="4.23" height="12.36" fill="#c3c1c7"/>
<rect x="475.38" y="185.12" width="4.23" height="12.36" fill="#c3c1c7"/>
<rect x="480.11" y="185.12" width="4.23" height="12.36" fill="#c3c1c7"/>
<rect x="484.84" y="185.12" width="4.23" height="12.36" fill="#c3c1c7"/>
<rect x="489.58" y="185.12" width="4.23" height="12.36" fill="#c3c1c7"/>
<rect x="494.31" y="185.12" width="4.23" height="12.36" fill="#c3c1c7"/>
<rect x="499.05" y="185.12" width="4.23" height="12.36" fill="#c3c1c7"/>
<rect x="503.78" y="185.12" width="4.23" height="12.36" fill="#c3c1c7"/>
<rect x="508.52" y="185.12" width="4.23" height="12.36" fill="#c3c1c7"/>
<rect x="361.75" y="198.07" width="4.23" height="12.36" fill="#c3c1c7"/>
<rect x="366.48" y="198.07" width="4.23" height="12.36" fill="#c3c1c7"/>
<rect x="371.22" y="198.07" width="4.23" height="12.36" fill="#c3c1c7"/>
<rect x="375.95" y="198.07" width="4.23" height="12.36" fill="#c3c1c7"/>
<rect x="380.69" y="198.07" width="4.23" height="12.36" fill="#c3c1c7"/>
<rect x="385.42" y="198.07" width="4.23" height="12.36" fill="#c3c1c7"/>
<rect x="390.16" y="198.07" width="4.23" height="12.36" fill="#c3c1c7"/>
<rect x="394.89" y="198.07" width="4.23" height="12.36" fill="#c3c1c7"/>
<rect x="399.62" y="198.07" width="4.23" height="12.36" fill="#c3c1c7"/>
<rect x="404.36" y="198.07" width="4.23" height="12.36" fill="#c3c1c7"/>
<rect x="409.09" y="198.07" width="4.23" height="12.36" fill="#c3c1c7"/>
<rect x="413.83" y="198.07" width="4.23" height="12.36" fill="#c3c1c7"/>
<rect x="418.56" y="198.07" width="4.23" height="12.36" fill="#c3c1c7"/>
<rect x="423.3" y="198.07" width="4.23" height="12.36" fill="#c3c1c7"/>
<rect x="428.03" y="198.07" width="4.23" height="12.36" fill="#5aa6e4"/>
<rect x="432.77" y="198.07" width="4.23" height="12.36" fill="#c3c1c7"/>
<rect x="437.5" y="198.07" width="4.23" height="12.36" fill="#c3c1c7"/>
<rect x="442.23" y="198.07" width="4.23" height="12.36" fill="#c3c1c7"/>
<rect x="446.97" y="198.07" width="4.23" height="12.36" fill="#c3c1c7"/>
<rect x="451.7" y="198.07" width="4.23" height="12.36" fill="#c3c1c7"/>
<rect x="456.44" y="198.07" width="4.23" height="12.36" fill="#c3c1c7"/>
<rect x="461.17" y="198.07" width="4.23" height="12.36" fill="#c3c1c7"/>
<rect x="465.91" y="198.07" width="4.23" height="12.36" fill="#c3c1c7"/>
<rect x="470.64" y="198.07" width="4.23" height="12.36" fill="#c3c1c7"/>
<rect x="475.38" y="198.07" width="4.23" height="12.36" fill="#c3c1c7"/>
<rect x="480.11" y="198.07" width="4.23" height="12.36" fill="#c3c1c7"/>
<rect x="484.84" y="198.07" width="4.23" height="12.36" fill="#c3c1c7"/>
<rect x="489.58" y="198.07" width="4.23" height="12.36" fill="#c3c1c7"/>
<rect x="494.31" y="198.07" width="4.23" height="12.36" fill="#c3c1c7"/>
<rect x="499.05" y="198.07" width="4.23" height="12.36" fill="#c3c1c7"/>
<rect x="503.78" y="198.07" width="4.23" height="12.36" fill="#c3c1c7"/>
<rect x="508.52" y="198.07" width="4.23" height="12.36" fill="#c3c1c7"/>
</g>
<rect x="385.42" y="94.43" width="4.23" height="6.18" fill="#4a5065"/>
<text x="387.54" y="151.35" font-size="5.2" text-anchor="middle" fill="#111">*</text>
<rect x="36.45" y="16.3" width="316.7" height="194.32" fill="none" stroke="#000" stroke-width="1"/>
<rect x="361.85" y="16.3" width="150.75" height="194.32" fill="none" stroke="#000" stroke-width="1"/>
<g font-size="4.25" fill="#111" text-anchor="end" style="stroke-width:0.1px">
<text transform="translate(40.31 213.7) rotate(-90)">B-ALL_7</text>
<text transform="translate(45.04 213.7) rotate(-90)">B-ALL_20</text>
<text transform="translate(49.77 213.7) rotate(-90)">B-ALL_18</text>
<text transform="translate(54.49 213.7) rotate(-90)">B-ALL3_13</text>
<text transform="translate(59.22 213.7) rotate(-90)">B-ALL3_17</text>
<text transform="translate(63.95 213.7) rotate(-90)">B-ALL3_19</text>
<text transform="translate(68.67 213.7) rotate(-90)">B-ALL5_5</text>
<text transform="translate(73.4 213.7) rotate(-90)">B-ALL10_5</text>
<text transform="translate(78.13 213.7) rotate(-90)">B-ALL15_1</text>
<text transform="translate(82.86 213.7) rotate(-90)">B-ALL15_8</text>
<text transform="translate(87.58 213.7) rotate(-90)">B-ALL17_7</text>
<text transform="translate(92.31 213.7) rotate(-90)">B-ALL8_5</text>
<text transform="translate(97.04 213.7) rotate(-90)">B-ALL8_4</text>
<text transform="translate(101.76 213.7) rotate(-90)">B-ALL3_23</text>
<text transform="translate(106.49 213.7) rotate(-90)">B-ALL21_1</text>
<text transform="translate(111.22 213.7) rotate(-90)">B-ALL_51</text>
<text transform="translate(115.94 213.7) rotate(-90)">B-ALL5_4</text>
<text transform="translate(120.67 213.7) rotate(-90)">B-ALL16_6</text>
<text transform="translate(125.4 213.7) rotate(-90)">B-ALL20_3</text>
<text transform="translate(130.12 213.7) rotate(-90)">B-ALL17_8</text>
<text transform="translate(134.85 213.7) rotate(-90)">B-ALL20_6</text>
<text transform="translate(139.58 213.7) rotate(-90)">B-ALL5_6</text>
<text transform="translate(144.3 213.7) rotate(-90)">B-ALL12_2</text>
<text transform="translate(149.03 213.7) rotate(-90)">B-ALL12_3</text>
<text transform="translate(153.76 213.7) rotate(-90)">B-ALL15_4</text>
<text transform="translate(158.49 213.7) rotate(-90)">B-ALL15_7</text>
<text transform="translate(163.21 213.7) rotate(-90)">B-ALL7_6</text>
<text transform="translate(167.94 213.7) rotate(-90)">B-ALL8_6</text>
<text transform="translate(172.67 213.7) rotate(-90)">B-ALL6_1</text>
<text transform="translate(177.39 213.7) rotate(-90)">B-ALL_17</text>
<text transform="translate(182.12 213.7) rotate(-90)">B-ALL19_15</text>
<text transform="translate(186.85 213.7) rotate(-90)">B-ALL19_14</text>
<text transform="translate(191.57 213.7) rotate(-90)">B-ALL9_4</text>
<text transform="translate(196.3 213.7) rotate(-90)">B-ALL11_9</text>
<text transform="translate(201.03 213.7) rotate(-90)">B-ALL_10</text>
<text transform="translate(205.75 213.7) rotate(-90)">B-ALL11_10</text>
<text transform="translate(210.48 213.7) rotate(-90)">B-ALL16_9</text>
<text transform="translate(215.21 213.7) rotate(-90)">B-ALL6_3</text>
<text transform="translate(219.93 213.7) rotate(-90)">B-ALL10_2</text>
<text transform="translate(224.66 213.7) rotate(-90)">B-ALL3_20</text>
<text transform="translate(229.39 213.7) rotate(-90)">B-ALL5_7</text>
<text transform="translate(234.11 213.7) rotate(-90)">B-ALL_4</text>
<text transform="translate(238.84 213.7) rotate(-90)">B-ALL9_7</text>
<text transform="translate(243.57 213.7) rotate(-90)">B-ALL18_7</text>
<text transform="translate(248.3 213.7) rotate(-90)">B-ALL7_3</text>
<text transform="translate(253.02 213.7) rotate(-90)">B-ALL8_7</text>
<text transform="translate(257.75 213.7) rotate(-90)">B-ALL_1</text>
<text transform="translate(262.48 213.7) rotate(-90)">B-ALL_6</text>
<text transform="translate(267.2 213.7) rotate(-90)">B-ALL3_1</text>
<text transform="translate(271.93 213.7) rotate(-90)">B-ALL5_8</text>
<text transform="translate(276.66 213.7) rotate(-90)">B-ALL5_10</text>
<text transform="translate(281.38 213.7) rotate(-90)">B-ALL14_8</text>
<text transform="translate(286.11 213.7) rotate(-90)">B-ALL16_2</text>
<text transform="translate(290.84 213.7) rotate(-90)">B-ALL16_3</text>
<text transform="translate(295.56 213.7) rotate(-90)">B-ALL18_14</text>
<text transform="translate(300.29 213.7) rotate(-90)">B-ALL9_2</text>
<text transform="translate(305.02 213.7) rotate(-90)">B-ALL3_2</text>
<text transform="translate(309.74 213.7) rotate(-90)">B-ALL14_7</text>
<text transform="translate(314.47 213.7) rotate(-90)">B-ALL9_5</text>
<text transform="translate(319.2 213.7) rotate(-90)">B-ALL3_11</text>
<text transform="translate(323.93 213.7) rotate(-90)">B-ALL12_4</text>
<text transform="translate(328.65 213.7) rotate(-90)">B-ALL17_2</text>
<text transform="translate(333.38 213.7) rotate(-90)">B-ALL11_8</text>
<text transform="translate(338.11 213.7) rotate(-90)">B-ALL16_9</text>
<text transform="translate(342.83 213.7) rotate(-90)">B-ALL20_7</text>
<text transform="translate(347.56 213.7) rotate(-90)">B-ALL_9</text>
<text transform="translate(352.29 213.7) rotate(-90)">B-ALL13_6</text>
<text transform="translate(365.37 213.7) rotate(-90)">B-ALL6_1</text>
<text transform="translate(370.1 213.7) rotate(-90)">B-ALL19_11</text>
<text transform="translate(374.84 213.7) rotate(-90)">B-ALL9_3</text>
<text transform="translate(379.57 213.7) rotate(-90)">B-ALL3_21</text>
<text transform="translate(384.3 213.7) rotate(-90)">B-ALL3_26</text>
<text transform="translate(389.04 213.7) rotate(-90)">B-ALL_16</text>
<text transform="translate(393.77 213.7) rotate(-90)">B-ALL1_8</text>
<text transform="translate(398.51 213.7) rotate(-90)">B-ALL_22</text>
<text transform="translate(403.24 213.7) rotate(-90)">B-ALL6_8</text>
<text transform="translate(407.98 213.7) rotate(-90)">B-ALL19_12</text>
<text transform="translate(412.71 213.7) rotate(-90)">B-ALL3_25</text>
<text transform="translate(417.45 213.7) rotate(-90)">B-ALL13_2</text>
<text transform="translate(422.18 213.7) rotate(-90)">B-ALL6_3</text>
<text transform="translate(426.91 213.7) rotate(-90)">B-ALL18_4</text>
<text transform="translate(431.65 213.7) rotate(-90)">B-ALL11_12</text>
<text transform="translate(436.38 213.7) rotate(-90)">B-ALL13_5</text>
<text transform="translate(441.12 213.7) rotate(-90)">B-ALL11_7</text>
<text transform="translate(445.85 213.7) rotate(-90)">B-ALL16_1</text>
<text transform="translate(450.59 213.7) rotate(-90)">B-ALL19_1</text>
<text transform="translate(455.32 213.7) rotate(-90)">B-ALL20_10</text>
<text transform="translate(460.05 213.7) rotate(-90)">B-ALL18_5</text>
<text transform="translate(464.79 213.7) rotate(-90)">B-ALL_23</text>
<text transform="translate(469.52 213.7) rotate(-90)">B-ALL13_8</text>
<text transform="translate(474.26 213.7) rotate(-90)">B-ALL4_2</text>
<text transform="translate(478.99 213.7) rotate(-90)">B-ALL18_12</text>
<text transform="translate(483.73 213.7) rotate(-90)">B-ALL5_9</text>
<text transform="translate(488.46 213.7) rotate(-90)">B-ALL5_12</text>
<text transform="translate(493.2 213.7) rotate(-90)">B-ALL12_1</text>
<text transform="translate(497.93 213.7) rotate(-90)">B-ALL18_16</text>
<text transform="translate(502.66 213.7) rotate(-90)">B-ALL18_14</text>
<text transform="translate(507.4 213.7) rotate(-90)">B-ALL8_6</text>
<text transform="translate(512.13 213.7) rotate(-90)">B-ALL15_12</text>
</g>
<text x="39.1" y="12.5" font-size="6.25" font-weight="bold" fill="#111" style="stroke-width:0.22px" textLength="46.7" lengthAdjust="spacingAndGlyphs">Defined (n=67)</text>
<text x="362.1" y="12.5" font-size="6.25" font-weight="bold" fill="#111" style="stroke-width:0.22px" textLength="55.2" lengthAdjust="spacingAndGlyphs">Undefined (n=32)</text>
<g font-size="6.4" fill="#111" style="stroke-width:0.1px">
<text x="9.9" y="24.83" textLength="23.3" lengthAdjust="spacingAndGlyphs">Subtype</text>
<text x="10.7" y="37.78" textLength="22.5" lengthAdjust="spacingAndGlyphs">NCI risk</text>
<text x="18.6" y="50.74" textLength="14.6" lengthAdjust="spacingAndGlyphs">MRD</text>
<text x="7.4" y="63.69" textLength="25.8" lengthAdjust="spacingAndGlyphs">Outcome</text>
<text x="15.3" y="76.65" font-style="italic" textLength="17.9" lengthAdjust="spacingAndGlyphs">IKZF1</text>
<text x="7.6" y="89.6" textLength="25.6" lengthAdjust="spacingAndGlyphs">Standard</text>
<text x="7.9" y="102.56" textLength="25.3" lengthAdjust="spacingAndGlyphs">RNA-seq</text>
</g>
<text transform="translate(31.9 158.3) rotate(-90)" font-size="6.35" fill="#151515" text-anchor="middle" textLength="85.3" lengthAdjust="spacingAndGlyphs">Non-standard rearrangements</text>
<g font-size="5.3" fill="#151515" style="white-space:pre">
<text x="36.3" y="252.2">Subtype</text>
<rect x="36.3" y="257.4" width="6" height="6" fill="#21407e"/>
<text x="45.9" y="261.8">Hyperdiploid</text>
<rect x="36.3" y="265.56" width="6" height="6" fill="#9cc4ec"/>
<text x="45.9" y="269.96">High-hypodiploid</text>
<rect x="36.3" y="273.73" width="6" height="6" fill="#cfe0f6"/>
<text x="45.9" y="278.13">Low-hypodiploid</text>
<rect x="36.3" y="281.89" width="6" height="6" fill="#a6002b"/>
<text x="45.9" y="286.29"><tspan font-style="italic">BCR-ABL1</tspan></text>
<rect x="36.3" y="290.06" width="6" height="6" fill="#4b1c62"/>
<text x="45.9" y="294.46"><tspan font-style="italic">KMT2A</tspan> rearranged</text>
<rect x="36.3" y="298.22" width="6" height="6" fill="#5aa532"/>
<text x="45.9" y="302.62"><tspan font-style="italic">ETV6-RUNX1</tspan></text>
<rect x="36.3" y="306.39" width="6" height="6" fill="#de8b14"/>
<text x="45.9" y="310.79"><tspan font-style="italic">TCF3-PBX1</tspan></text>
<rect x="36.3" y="314.55" width="6" height="6" fill="#e3e3e7"/>
<text x="45.9" y="318.95"><tspan font-style="italic">IL3-IGH</tspan></text>
<rect x="36.3" y="322.72" width="6" height="6" fill="#4a5065"/>
<text x="45.9" y="327.12">Undefined</text>
<text x="109.1" y="252.2">NCI risk</text>
<rect x="109.1" y="257.4" width="6" height="6" fill="#efbe18"/>
<text x="118.7" y="261.8">Standard risk</text>
<rect x="109.1" y="265.56" width="6" height="6" fill="#eecbc3"/>
<text x="118.7" y="269.96">High risk</text>
<text x="109.1" y="284.86">MRD</text>
<rect x="109.1" y="290.06" width="6" height="6" fill="#d48a7c"/>
<text x="118.7" y="294.46">Positive</text>
<rect x="109.1" y="298.22" width="6" height="6" fill="#c3c1c7"/>
<text x="118.7" y="302.62">Negative</text>
<text x="168.1" y="252.2">Outcome</text>
<rect x="168.1" y="257.4" width="6" height="6" fill="#a6002b"/>
<text x="177.7" y="261.8">Event</text>
<rect x="168.1" y="265.56" width="6" height="6" fill="#c3c1c7"/>
<text x="177.7" y="269.96">No event</text>
<text x="216.4" y="252.2"><tspan font-style="italic">IKZF1</tspan></text>
<rect x="216.4" y="257.4" width="6" height="6" fill="#62a6e0"/>
<text x="226" y="261.8"><tspan font-style="italic">IKZF1</tspan> del</text>
<rect x="216.4" y="265.56" width="6" height="6" fill="#9cc4ec"/>
<text x="226" y="269.96">Monosomy 7</text>
<rect x="216.4" y="273.73" width="6" height="6" fill="#cfe0f6"/>
<text x="226" y="278.13">Subclonal del</text>
<rect x="216.4" y="281.89" width="6" height="6" fill="#c3c1c7"/>
<text x="226" y="286.29">No del</text>
<text x="276" y="252.2">Standard/RNA-seq result</text>
<rect x="276" y="257.3" width="6" height="6" fill="#5aa532"/>
<text x="285.6" y="261.8" textLength="88.1" lengthAdjust="spacingAndGlyphs">Rearrangement identified by standard</text>
<text x="285.6" y="269.7" textLength="67.2" lengthAdjust="spacingAndGlyphs">clincal test (Karyotype/FISH)</text>
<rect x="276" y="273.4" width="6" height="6" fill="#21407e"/>
<text x="285.6" y="278.1" textLength="69.5" lengthAdjust="spacingAndGlyphs">Fusion identified by RNA-Seq</text>
<rect x="276" y="282.3" width="6" height="6.2" fill="#4a5065"/>
<rect x="276" y="288.5" width="6" height="6.1" fill="#21407e"/>
<text x="285.6" y="287.1" textLength="115.4" lengthAdjust="spacingAndGlyphs"><tspan font-style="italic">IGH-CRLF2</tspan> rearrangement missed by RNA-seq;</text>
<text x="285.6" y="293.9" textLength="101.8" lengthAdjust="spacingAndGlyphs"><tspan font-style="italic">PAX5</tspan> rearrangement identified by RNA-seq</text>
<rect x="276" y="297.9" width="6" height="6" fill="#4a5065"/>
<text x="285.6" y="302.8" textLength="81.1" lengthAdjust="spacingAndGlyphs">No rearrangement/fusion identified</text>
<text x="418.6" y="252.2" textLength="70" lengthAdjust="spacingAndGlyphs">Non-standard rearrangements</text>
<rect x="418.6" y="257.4" width="6" height="6" fill="#4b1c62"/>
<text x="428.2" y="261.8">Non-standard <tspan font-style="italic">KMT2A</tspan></text>
<rect x="418.6" y="265.56" width="6" height="6" fill="#c8007c"/>
<text x="428.2" y="269.96"><tspan font-style="italic">ABL1</tspan></text>
<rect x="418.6" y="273.73" width="6" height="6" fill="#d3589a"/>
<text x="428.2" y="278.13"><tspan font-style="italic">PAX5-JAK2</tspan></text>
<rect x="418.6" y="281.89" width="6" height="6" fill="#e295c1"/>
<text x="428.2" y="286.29"><tspan font-style="italic">IGH-CRLF2</tspan></text>
<rect x="418.6" y="290.06" width="6" height="6" fill="#f3d1e4"/>
<text x="428.2" y="294.46"><tspan font-style="italic">P2RY8-CRLF2</tspan></text>
<rect x="418.6" y="298.22" width="6" height="6" fill="#a9bd7a"/>
<text x="428.2" y="302.62">Non-standard <tspan font-style="italic">ETV6</tspan></text>
<rect x="418.6" y="306.39" width="6" height="6" fill="#de8b14"/>
<text x="428.2" y="310.79"><tspan font-style="italic">TCF3-ZNF384</tspan></text>
<rect x="418.6" y="314.55" width="6" height="6" fill="#8a7cc2"/>
<text x="428.2" y="318.95"><tspan font-style="italic">PAX5</tspan></text>
<rect x="418.6" y="322.72" width="6" height="6" fill="#5aa6e4"/>
<text x="428.2" y="327.12"><tspan font-style="italic">IKZF1</tspan></text>
</g>
</g>
<path d="M0 0H520V336H0Z M1.1 1.1H518.9V334.8H1.1Z" fill="#000" fill-rule="evenodd"/>
</svg>
</body>
</html>
